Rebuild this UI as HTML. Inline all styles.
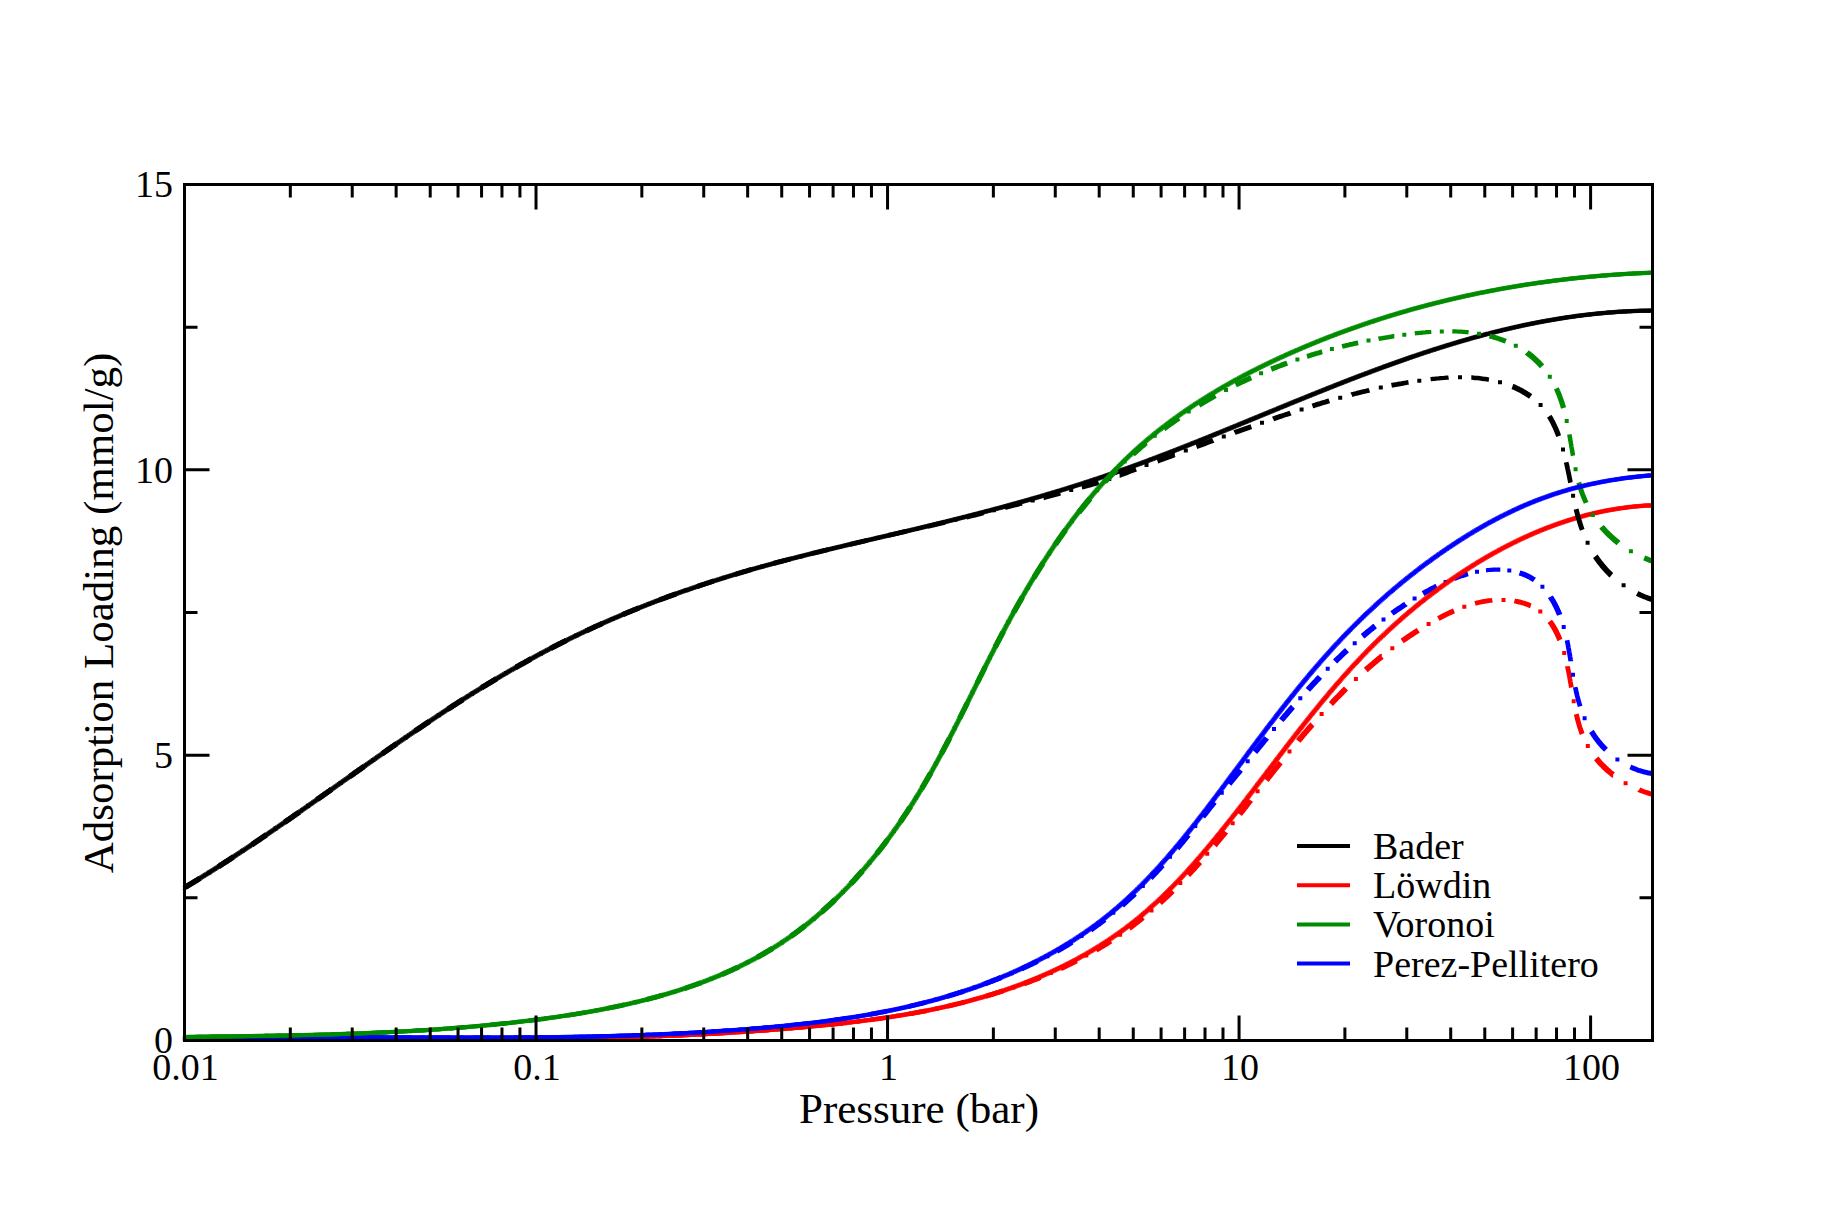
<!DOCTYPE html>
<html><head><meta charset="utf-8"><style>
html,body{margin:0;padding:0;background:#fff;}
svg{display:block;}
text{font-family:"Liberation Serif",serif;fill:#000;}
</style></head><body>
<svg width="1836" height="1224" viewBox="0 0 1836 1224">
<rect width="1836" height="1224" fill="#fff"/>
<g fill="none" stroke-linecap="butt" stroke-linejoin="round">
<defs>
<path id="c2" d="M184.5 1038.5 L185.5 1038.5 L187.0 1038.5 L188.5 1038.5 L190.0 1038.5 L191.5 1038.5 L193.1 1038.5 L194.6 1038.5 L196.1 1038.5 L197.6 1038.5 L199.1 1038.5 L200.6 1038.5 L202.1 1038.5 L203.6 1038.5 L205.1 1038.5 L206.6 1038.5 L208.1 1038.5 L209.7 1038.5 L211.2 1038.5 L212.7 1038.5 L214.2 1038.5 L215.7 1038.5 L217.2 1038.5 L218.7 1038.5 L220.2 1038.5 L221.7 1038.5 L223.2 1038.5 L224.7 1038.5 L226.2 1038.5 L227.7 1038.5 L229.2 1038.5 L230.8 1038.5 L232.3 1038.5 L233.8 1038.5 L235.3 1038.5 L236.8 1038.5 L238.3 1038.5 L239.8 1038.5 L241.3 1038.5 L242.8 1038.5 L244.3 1038.5 L245.8 1038.5 L247.3 1038.5 L248.8 1038.5 L250.3 1038.5 L251.8 1038.5 L253.3 1038.5 L254.8 1038.5 L256.3 1038.4 L257.9 1038.4 L259.4 1038.4 L260.9 1038.4 L262.4 1038.4 L263.9 1038.4 L265.4 1038.4 L266.9 1038.4 L268.4 1038.4 L269.9 1038.4 L271.4 1038.4 L272.9 1038.4 L274.4 1038.4 L275.9 1038.4 L277.4 1038.4 L278.9 1038.4 L280.4 1038.4 L281.9 1038.4 L283.4 1038.4 L284.9 1038.4 L286.4 1038.4 L287.9 1038.4 L289.4 1038.4 L290.9 1038.4 L292.4 1038.4 L293.9 1038.4 L295.4 1038.4 L296.9 1038.4 L298.5 1038.4 L300.0 1038.5 L301.5 1038.5 L303.0 1038.5 L304.5 1038.5 L306.0 1038.5 L307.5 1038.5 L309.0 1038.5 L310.5 1038.5 L312.0 1038.5 L313.5 1038.5 L315.0 1038.5 L316.5 1038.5 L318.0 1038.5 L319.5 1038.5 L321.0 1038.5 L322.5 1038.5 L324.0 1038.5 L325.5 1038.5 L327.0 1038.5 L328.5 1038.5 L330.0 1038.5 L331.5 1038.5 L333.0 1038.5 L334.5 1038.5 L336.0 1038.5 L337.5 1038.5 L339.0 1038.5 L340.5 1038.5 L342.0 1038.5 L343.5 1038.5 L345.0 1038.5 L346.5 1038.5 L348.0 1038.5 L349.5 1038.5 L351.0 1038.5 L352.5 1038.5 L354.0 1038.5 L355.5 1038.5 L357.0 1038.5 L358.5 1038.5 L360.0 1038.5 L361.5 1038.5 L363.0 1038.5 L364.5 1038.5 L366.0 1038.5 L367.5 1038.5 L369.0 1038.5 L370.5 1038.5 L372.0 1038.5 L373.5 1038.5 L375.0 1038.5 L376.5 1038.5 L378.0 1038.5 L379.5 1038.5 L381.0 1038.5 L382.5 1038.5 L384.0 1038.5 L385.5 1038.5 L387.0 1038.5 L388.5 1038.5 L390.0 1038.5 L391.5 1038.5 L393.0 1038.5 L394.4 1038.5 L395.9 1038.5 L397.4 1038.5 L398.9 1038.5 L400.4 1038.5 L401.9 1038.5 L403.4 1038.5 L404.9 1038.5 L406.4 1038.5 L407.9 1038.5 L409.4 1038.5 L410.9 1038.5 L412.4 1038.5 L413.9 1038.5 L415.4 1038.5 L416.9 1038.5 L418.4 1038.5 L419.9 1038.5 L421.4 1038.5 L422.9 1038.5 L424.4 1038.5 L425.9 1038.5 L427.4 1038.5 L428.9 1038.5 L430.4 1038.5 L431.9 1038.5 L433.4 1038.5 L434.9 1038.5 L436.4 1038.5 L437.9 1038.5 L439.4 1038.5 L440.9 1038.5 L442.4 1038.5 L443.8 1038.5 L445.3 1038.5 L446.8 1038.5 L448.3 1038.5 L449.8 1038.5 L451.3 1038.5 L452.8 1038.5 L454.3 1038.5 L455.8 1038.5 L457.3 1038.5 L458.8 1038.5 L460.3 1038.5 L461.8 1038.5 L463.3 1038.5 L464.8 1038.5 L466.3 1038.5 L467.8 1038.5 L469.3 1038.5 L470.8 1038.5 L472.3 1038.5 L473.8 1038.5 L475.3 1038.5 L476.8 1038.5 L478.2 1038.5 L479.7 1038.5 L481.2 1038.5 L482.7 1038.5 L484.2 1038.5 L485.7 1038.5 L487.2 1038.5 L488.7 1038.5 L490.2 1038.5 L491.7 1038.5 L493.2 1038.5 L494.7 1038.5 L496.2 1038.5 L497.7 1038.5 L499.2 1038.5 L500.7 1038.5 L502.2 1038.5 L503.7 1038.5 L505.2 1038.5 L506.6 1038.5 L508.1 1038.5 L509.6 1038.5 L511.1 1038.5 L512.6 1038.5 L514.1 1038.5 L515.6 1038.5 L517.1 1038.5 L518.6 1038.5 L520.1 1038.5 L521.6 1038.5 L523.1 1038.5 L524.6 1038.5 L526.1 1038.5 L527.6 1038.5 L529.1 1038.5 L530.6 1038.5 L532.1 1038.5 L533.5 1038.5 L535.0 1038.5 L536.5 1038.5 L538.0 1038.5 L539.5 1038.5 L541.0 1038.5 L542.5 1038.5 L544.0 1038.5 L545.5 1038.5 L547.0 1038.5 L548.5 1038.5 L550.0 1038.5 L551.5 1038.5 L553.0 1038.5 L554.5 1038.5 L556.0 1038.5 L557.4 1038.5 L558.9 1038.5 L560.4 1038.5 L561.9 1038.5 L563.4 1038.5 L564.9 1038.5 L566.4 1038.5 L567.9 1038.5 L569.4 1038.5 L570.9 1038.4 L572.4 1038.4 L573.9 1038.4 L575.4 1038.4 L576.9 1038.4 L578.4 1038.3 L579.9 1038.3 L581.3 1038.3 L582.8 1038.3 L584.3 1038.2 L585.8 1038.2 L587.3 1038.2 L588.8 1038.1 L590.3 1038.1 L591.8 1038.1 L593.3 1038.1 L594.8 1038.0 L596.3 1038.0 L597.8 1038.0 L599.3 1037.9 L600.8 1037.9 L602.3 1037.9 L603.7 1037.8 L605.2 1037.8 L606.7 1037.8 L608.2 1037.7 L609.7 1037.7 L611.2 1037.7 L612.7 1037.6 L614.2 1037.6 L615.7 1037.6 L617.2 1037.5 L618.7 1037.5 L620.2 1037.4 L621.7 1037.4 L623.2 1037.4 L624.7 1037.3 L626.1 1037.3 L627.6 1037.2 L629.1 1037.2 L630.6 1037.1 L632.1 1037.1 L633.6 1037.1 L635.1 1037.0 L636.6 1037.0 L638.1 1036.9 L639.6 1036.9 L641.1 1036.8 L642.6 1036.8 L644.1 1036.7 L645.6 1036.7 L647.0 1036.6 L648.5 1036.6 L650.0 1036.5 L651.5 1036.5 L653.0 1036.4 L654.5 1036.4 L656.0 1036.3 L657.5 1036.3 L659.0 1036.2 L660.5 1036.2 L662.0 1036.1 L663.5 1036.0 L665.0 1036.0 L666.5 1035.9 L668.0 1035.9 L669.5 1035.8 L670.9 1035.7 L672.4 1035.7 L673.9 1035.6 L675.4 1035.6 L676.9 1035.5 L678.4 1035.4 L679.9 1035.4 L681.4 1035.3 L682.9 1035.2 L684.4 1035.2 L685.9 1035.1 L687.4 1035.0 L688.9 1035.0 L690.4 1034.9 L691.9 1034.8 L693.3 1034.7 L694.8 1034.7 L696.3 1034.6 L697.8 1034.5 L699.3 1034.5 L700.8 1034.4 L702.3 1034.3 L703.8 1034.2 L705.3 1034.2 L706.8 1034.1 L708.3 1034.0 L709.8 1033.9 L711.3 1033.8 L712.8 1033.8 L714.3 1033.7 L715.8 1033.6 L717.2 1033.5 L718.7 1033.4 L720.2 1033.3 L721.7 1033.2 L723.2 1033.2 L724.7 1033.1 L726.2 1033.0 L727.7 1032.9 L729.2 1032.8 L730.7 1032.7 L732.2 1032.6 L733.7 1032.5 L735.2 1032.4 L736.7 1032.3 L738.2 1032.2 L739.7 1032.2 L741.2 1032.1 L742.6 1032.0 L744.1 1031.9 L745.6 1031.8 L747.1 1031.7 L748.6 1031.6 L750.1 1031.5 L751.6 1031.4 L753.1 1031.2 L754.6 1031.1 L756.1 1031.0 L757.6 1030.9 L759.1 1030.8 L760.6 1030.7 L762.1 1030.6 L763.6 1030.5 L765.1 1030.4 L766.6 1030.3 L768.1 1030.2 L769.6 1030.0 L771.0 1029.9 L772.5 1029.8 L774.0 1029.7 L775.5 1029.6 L777.0 1029.5 L778.5 1029.3 L780.0 1029.2 L781.5 1029.1 L783.0 1029.0 L784.5 1028.9 L786.0 1028.7 L787.5 1028.6 L789.0 1028.5 L790.5 1028.4 L792.0 1028.2 L793.5 1028.1 L795.0 1028.0 L796.5 1027.8 L798.0 1027.7 L799.5 1027.6 L801.0 1027.4 L802.5 1027.3 L804.0 1027.2 L805.4 1027.0 L806.9 1026.9 L808.4 1026.8 L809.9 1026.6 L811.4 1026.5 L812.9 1026.3 L814.4 1026.2 L815.9 1026.0 L817.4 1025.9 L818.9 1025.7 L820.4 1025.6 L821.9 1025.5 L823.4 1025.3 L824.9 1025.2 L826.4 1025.0 L827.9 1024.8 L829.4 1024.7 L830.9 1024.5 L832.4 1024.4 L833.9 1024.2 L835.4 1024.1 L836.9 1023.9 L838.4 1023.7 L839.9 1023.6 L841.4 1023.4 L842.8 1023.2 L844.3 1023.1 L845.8 1022.9 L847.3 1022.7 L848.8 1022.6 L850.3 1022.4 L851.8 1022.2 L853.3 1022.0 L854.8 1021.8 L856.3 1021.7 L857.8 1021.5 L859.3 1021.3 L860.8 1021.1 L862.3 1020.9 L863.8 1020.7 L865.3 1020.5 L866.7 1020.3 L868.2 1020.1 L869.7 1020.0 L871.2 1019.8 L872.7 1019.5 L874.2 1019.3 L875.7 1019.1 L877.2 1018.9 L878.7 1018.7 L880.2 1018.5 L881.6 1018.3 L883.1 1018.1 L884.6 1017.9 L886.1 1017.6 L887.6 1017.4 L889.1 1017.2 L890.6 1017.0 L892.1 1016.7 L893.5 1016.5 L895.0 1016.3 L896.5 1016.0 L898.0 1015.8 L899.5 1015.6 L901.0 1015.3 L902.4 1015.1 L903.9 1014.8 L905.4 1014.6 L906.9 1014.3 L908.4 1014.1 L909.8 1013.8 L911.3 1013.5 L912.8 1013.3 L914.3 1013.0 L915.7 1012.7 L917.2 1012.5 L918.7 1012.2 L920.2 1011.9 L921.6 1011.6 L923.1 1011.4 L924.6 1011.1 L926.1 1010.8 L927.5 1010.5 L929.0 1010.2 L930.5 1009.9 L931.9 1009.6 L933.4 1009.3 L934.9 1009.0 L936.3 1008.7 L937.8 1008.4 L939.3 1008.1 L940.7 1007.7 L942.2 1007.4 L943.7 1007.1 L945.1 1006.8 L946.6 1006.4 L948.0 1006.1 L949.5 1005.8 L951.0 1005.4 L952.4 1005.1 L953.9 1004.7 L955.3 1004.4 L956.8 1004.0 L958.2 1003.7 L959.7 1003.3 L961.1 1003.0 L962.6 1002.6 L964.0 1002.2 L965.5 1001.9 L966.9 1001.5 L968.4 1001.1 L969.8 1000.7 L971.3 1000.3 L972.7 999.9 L974.2 999.5 L975.6 999.1 L977.0 998.7 L978.5 998.3 L979.9 997.9 L981.4 997.5 L982.8 997.1 L984.2 996.7 L985.7 996.3 L987.1 995.8 L988.5 995.4 L990.0 995.0 L991.4 994.5 L992.8 994.1 L994.3 993.6 L995.7 993.2 L997.1 992.7 L998.5 992.3 L1000.0 991.8 L1001.4 991.3 L1002.8 990.9 L1004.2 990.4 L1005.6 989.9 L1007.0 989.4 L1008.5 988.9 L1009.9 988.4 L1011.3 987.9 L1012.7 987.4 L1014.1 986.9 L1015.5 986.4 L1016.9 985.9 L1018.3 985.4 L1019.7 984.9 L1021.1 984.4 L1022.5 983.8 L1023.9 983.3 L1025.3 982.7 L1026.7 982.2 L1028.1 981.7 L1029.5 981.1 L1030.9 980.5 L1032.3 980.0 L1033.7 979.4 L1035.1 978.8 L1036.5 978.3 L1037.9 977.7 L1039.2 977.1 L1040.6 976.5 L1042.0 975.9 L1043.4 975.3 L1044.8 974.7 L1046.1 974.1 L1047.5 973.5 L1048.9 972.9 L1050.2 972.3 L1051.6 971.7 L1053.0 971.0 L1054.3 970.4 L1055.7 969.8 L1057.0 969.1 L1058.4 968.5 L1059.7 967.8 L1061.1 967.2 L1062.4 966.5 L1063.8 965.9 L1065.1 965.2 L1066.5 964.5 L1067.8 963.8 L1069.1 963.2 L1070.5 962.5 L1071.8 961.8 L1073.1 961.1 L1074.4 960.4 L1075.8 959.7 L1077.1 959.0 L1078.4 958.3 L1079.7 957.5 L1081.0 956.8 L1082.3 956.1 L1083.6 955.4 L1084.9 954.6 L1086.2 953.9 L1087.5 953.1 L1088.8 952.4 L1090.1 951.6 L1091.4 950.9 L1092.7 950.1 L1094.0 949.3 L1095.2 948.6 L1096.5 947.8 L1097.8 947.0 L1099.1 946.2 L1100.3 945.4 L1101.6 944.6 L1102.9 943.8 L1104.1 943.0 L1105.4 942.2 L1106.6 941.4 L1107.9 940.6 L1109.1 939.7 L1110.3 938.9 L1111.6 938.1 L1112.8 937.2 L1114.0 936.4 L1115.3 935.5 L1116.5 934.7 L1117.7 933.8 L1118.9 933.0 L1120.1 932.1 L1121.4 931.2 L1122.6 930.3 L1123.8 929.5 L1125.0 928.6 L1126.1 927.7 L1127.3 926.8 L1128.5 925.9 L1129.7 925.0 L1130.9 924.1 L1132.1 923.1 L1133.2 922.2 L1134.4 921.3 L1135.6 920.4 L1136.7 919.4 L1137.9 918.5 L1139.0 917.5 L1140.2 916.6 L1141.3 915.6 L1142.5 914.7 L1143.6 913.7 L1144.7 912.7 L1145.9 911.8 L1147.0 910.8 L1148.1 909.8 L1149.2 908.8 L1150.3 907.8 L1151.4 906.8 L1152.6 905.8 L1153.7 904.8 L1154.8 903.8 L1155.9 902.8 L1157.0 901.8 L1158.0 900.8 L1159.1 899.8 L1160.2 898.7 L1161.3 897.7 L1162.4 896.7 L1163.5 895.6 L1164.5 894.6 L1165.6 893.5 L1166.7 892.5 L1167.7 891.5 L1168.8 890.4 L1169.8 889.3 L1170.9 888.3 L1172.0 887.2 L1173.0 886.1 L1174.0 885.1 L1175.1 884.0 L1176.1 882.9 L1177.2 881.8 L1178.2 880.8 L1179.2 879.7 L1180.3 878.6 L1181.3 877.5 L1182.3 876.4 L1183.3 875.3 L1184.4 874.2 L1185.4 873.1 L1186.4 872.0 L1187.4 870.9 L1188.4 869.8 L1189.4 868.7 L1190.4 867.5 L1191.4 866.4 L1192.4 865.3 L1193.4 864.2 L1194.4 863.1 L1195.4 861.9 L1196.4 860.8 L1197.4 859.7 L1198.4 858.5 L1199.4 857.4 L1200.3 856.3 L1201.3 855.1 L1202.3 854.0 L1203.3 852.8 L1204.3 851.7 L1205.2 850.5 L1206.2 849.4 L1207.2 848.2 L1208.1 847.1 L1209.1 845.9 L1210.1 844.8 L1211.0 843.6 L1212.0 842.5 L1212.9 841.3 L1213.9 840.1 L1214.9 839.0 L1215.8 837.8 L1216.8 836.7 L1217.7 835.5 L1218.7 834.3 L1219.6 833.2 L1220.6 832.0 L1221.5 830.8 L1222.4 829.6 L1223.4 828.5 L1224.3 827.3 L1225.3 826.1 L1226.2 824.9 L1227.1 823.8 L1228.1 822.6 L1229.0 821.4 L1229.9 820.2 L1230.9 819.1 L1231.8 817.9 L1232.7 816.7 L1233.7 815.5 L1234.6 814.3 L1235.5 813.2 L1236.4 812.0 L1237.4 810.8 L1238.3 809.6 L1239.2 808.4 L1240.1 807.2 L1241.1 806.0 L1242.0 804.9 L1242.9 803.7 L1243.8 802.5 L1244.7 801.3 L1245.7 800.1 L1246.6 798.9 L1247.5 797.7 L1248.4 796.5 L1249.3 795.3 L1250.2 794.2 L1251.1 793.0 L1252.1 791.8 L1253.0 790.6 L1253.9 789.4 L1254.8 788.2 L1255.7 787.0 L1256.6 785.8 L1257.5 784.6 L1258.4 783.4 L1259.3 782.2 L1260.3 781.0 L1261.2 779.8 L1262.1 778.6 L1263.0 777.5 L1263.9 776.3 L1264.8 775.1 L1265.7 773.9 L1266.6 772.7 L1267.5 771.5 L1268.4 770.3 L1269.3 769.1 L1270.2 767.9 L1271.2 766.7 L1272.1 765.5 L1273.0 764.3 L1273.9 763.1 L1274.8 761.9 L1275.7 760.7 L1276.6 759.6 L1277.5 758.4 L1278.4 757.2 L1279.3 756.0 L1280.2 754.8 L1281.1 753.6 L1282.1 752.4 L1283.0 751.2 L1283.9 750.0 L1284.8 748.8 L1285.7 747.7 L1286.6 746.5 L1287.5 745.3 L1288.4 744.1 L1289.4 742.9 L1290.3 741.7 L1291.2 740.5 L1292.1 739.4 L1293.0 738.2 L1293.9 737.0 L1294.9 735.8 L1295.8 734.6 L1296.7 733.4 L1297.6 732.3 L1298.5 731.1 L1299.5 729.9 L1300.4 728.7 L1301.3 727.5 L1302.2 726.4 L1303.1 725.2 L1304.1 724.0 L1305.0 722.9 L1305.9 721.7 L1306.9 720.5 L1307.8 719.3 L1308.7 718.2 L1309.7 717.0 L1310.6 715.8 L1311.5 714.7 L1312.5 713.5 L1313.4 712.3 L1314.3 711.2 L1315.3 710.0 L1316.2 708.9 L1317.2 707.7 L1318.1 706.5 L1319.0 705.4 L1320.0 704.2 L1320.9 703.1 L1321.9 701.9 L1322.8 700.8 L1323.8 699.6 L1324.8 698.5 L1325.7 697.3 L1326.7 696.2 L1327.6 695.0 L1328.6 693.9 L1329.5 692.7 L1330.5 691.6 L1331.5 690.5 L1332.4 689.3 L1333.4 688.2 L1334.4 687.1 L1335.4 685.9 L1336.3 684.8 L1337.3 683.7 L1338.3 682.5 L1339.3 681.4 L1340.3 680.3 L1341.2 679.2 L1342.2 678.0 L1343.2 676.9 L1344.2 675.8 L1345.2 674.7 L1346.2 673.6 L1347.2 672.5 L1348.2 671.4 L1349.2 670.2 L1350.2 669.1 L1351.2 668.0 L1352.2 666.9 L1353.2 665.8 L1354.2 664.7 L1355.3 663.6 L1356.3 662.5 L1357.3 661.5 L1358.3 660.4 L1359.3 659.3 L1360.4 658.2 L1361.4 657.1 L1362.4 656.0 L1363.5 654.9 L1364.5 653.9 L1365.6 652.8 L1366.6 651.7 L1367.6 650.7 L1368.7 649.6 L1369.7 648.5 L1370.8 647.5 L1371.9 646.4 L1372.9 645.3 L1374.0 644.3 L1375.0 643.2 L1376.1 642.2 L1377.2 641.1 L1378.3 640.1 L1379.3 639.0 L1380.4 638.0 L1381.5 637.0 L1382.6 635.9 L1383.7 634.9 L1384.8 633.9 L1385.9 632.8 L1386.9 631.8 L1388.0 630.8 L1389.1 629.8 L1390.2 628.7 L1391.4 627.7 L1392.5 626.7 L1393.6 625.7 L1394.7 624.7 L1395.8 623.7 L1396.9 622.7 L1398.0 621.7 L1399.2 620.7 L1400.3 619.7 L1401.4 618.7 L1402.6 617.7 L1403.7 616.7 L1404.8 615.7 L1406.0 614.8 L1407.1 613.8 L1408.3 612.8 L1409.4 611.8 L1410.6 610.9 L1411.7 609.9 L1412.9 609.0 L1414.0 608.0 L1415.2 607.0 L1416.3 606.1 L1417.5 605.1 L1418.7 604.2 L1419.8 603.2 L1421.0 602.3 L1422.2 601.4 L1423.4 600.4 L1424.5 599.5 L1425.7 598.6 L1426.9 597.6 L1428.1 596.7 L1429.3 595.8 L1430.5 594.9 L1431.7 594.0 L1432.9 593.1 L1434.1 592.2 L1435.3 591.3 L1436.5 590.4 L1437.7 589.5 L1438.9 588.6 L1440.1 587.7 L1441.3 586.8 L1442.5 585.9 L1443.8 585.0 L1445.0 584.1 L1446.2 583.3 L1447.4 582.4 L1448.6 581.5 L1449.9 580.7 L1451.1 579.8 L1452.3 579.0 L1453.6 578.1 L1454.8 577.3 L1456.1 576.4 L1457.3 575.6 L1458.6 574.7 L1459.8 573.9 L1461.1 573.1 L1462.3 572.2 L1463.6 571.4 L1464.8 570.6 L1466.1 569.8 L1467.3 569.0 L1468.6 568.2 L1469.9 567.4 L1471.1 566.6 L1472.4 565.8 L1473.7 565.0 L1475.0 564.2 L1476.2 563.4 L1477.5 562.6 L1478.8 561.8 L1480.1 561.1 L1481.4 560.3 L1482.7 559.5 L1483.9 558.8 L1485.2 558.0 L1486.5 557.2 L1487.8 556.5 L1489.1 555.7 L1490.4 555.0 L1491.7 554.3 L1493.0 553.5 L1494.3 552.8 L1495.7 552.1 L1497.0 551.4 L1498.3 550.6 L1499.6 549.9 L1500.9 549.2 L1502.2 548.5 L1503.6 547.8 L1504.9 547.1 L1506.2 546.4 L1507.5 545.7 L1508.9 545.1 L1510.2 544.4 L1511.5 543.7 L1512.9 543.0 L1514.2 542.4 L1515.6 541.7 L1516.9 541.1 L1518.2 540.4 L1519.6 539.8 L1520.9 539.1 L1522.3 538.5 L1523.6 537.9 L1525.0 537.2 L1526.4 536.6 L1527.7 536.0 L1529.1 535.4 L1530.4 534.8 L1531.8 534.2 L1533.2 533.6 L1534.5 533.0 L1535.9 532.4 L1537.3 531.8 L1538.7 531.3 L1540.0 530.7 L1541.4 530.1 L1542.8 529.6 L1544.2 529.0 L1545.6 528.5 L1547.0 527.9 L1548.4 527.4 L1549.8 526.9 L1551.1 526.4 L1552.5 525.8 L1553.9 525.3 L1555.3 524.8 L1556.7 524.3 L1558.1 523.8 L1559.6 523.3 L1561.0 522.8 L1562.4 522.4 L1563.8 521.9 L1565.2 521.4 L1566.6 521.0 L1568.0 520.5 L1569.5 520.0 L1570.9 519.6 L1572.3 519.2 L1573.7 518.7 L1575.2 518.3 L1576.6 517.9 L1578.0 517.5 L1579.5 517.1 L1580.9 516.7 L1582.3 516.3 L1583.8 515.9 L1585.2 515.5 L1586.6 515.1 L1588.1 514.7 L1589.5 514.4 L1591.0 514.0 L1592.4 513.7 L1593.9 513.3 L1595.3 513.0 L1596.8 512.7 L1598.3 512.3 L1599.7 512.0 L1601.2 511.7 L1602.7 511.4 L1604.1 511.1 L1605.6 510.8 L1607.1 510.5 L1608.5 510.3 L1610.0 510.0 L1611.5 509.7 L1613.0 509.5 L1614.4 509.2 L1615.9 509.0 L1617.4 508.7 L1618.9 508.5 L1620.4 508.3 L1621.9 508.1 L1623.3 507.9 L1624.8 507.7 L1626.3 507.5 L1627.8 507.3 L1629.3 507.1 L1630.8 506.9 L1632.3 506.8 L1633.8 506.6 L1635.3 506.5 L1636.8 506.3 L1638.3 506.2 L1639.9 506.1 L1641.4 505.9 L1642.9 505.8 L1644.4 505.7 L1645.9 505.6 L1647.4 505.5 L1649.0 505.5 L1650.5 505.4 L1652.0 505.3" stroke="#f00"/>
<path id="c3" d="M184.5 888.0 L185.3 887.2 L186.6 886.5 L187.8 885.7 L189.1 884.9 L190.4 884.1 L191.6 883.4 L192.9 882.6 L194.2 881.8 L195.5 881.0 L196.7 880.3 L198.0 879.5 L199.3 878.7 L200.5 877.9 L201.8 877.1 L203.1 876.3 L204.3 875.5 L205.6 874.7 L206.9 874.0 L208.1 873.2 L209.4 872.4 L210.6 871.6 L211.9 870.8 L213.2 870.0 L214.4 869.2 L215.7 868.4 L216.9 867.6 L218.2 866.8 L219.5 866.0 L220.7 865.1 L222.0 864.3 L223.2 863.5 L224.5 862.7 L225.7 861.9 L227.0 861.1 L228.2 860.3 L229.5 859.5 L230.7 858.6 L232.0 857.8 L233.2 857.0 L234.5 856.2 L235.7 855.4 L237.0 854.5 L238.2 853.7 L239.5 852.9 L240.7 852.1 L242.0 851.2 L243.2 850.4 L244.5 849.6 L245.7 848.8 L247.0 847.9 L248.2 847.1 L249.5 846.3 L250.7 845.4 L251.9 844.6 L253.2 843.8 L254.4 842.9 L255.7 842.1 L256.9 841.2 L258.2 840.4 L259.4 839.6 L260.6 838.7 L261.9 837.9 L263.1 837.0 L264.4 836.2 L265.6 835.3 L266.8 834.5 L268.1 833.7 L269.3 832.8 L270.6 832.0 L271.8 831.1 L273.0 830.3 L274.3 829.4 L275.5 828.6 L276.7 827.7 L278.0 826.9 L279.2 826.0 L280.4 825.2 L281.7 824.3 L282.9 823.5 L284.2 822.6 L285.4 821.7 L286.6 820.9 L287.9 820.0 L289.1 819.2 L290.3 818.3 L291.6 817.5 L292.8 816.6 L294.0 815.7 L295.3 814.9 L296.5 814.0 L297.7 813.2 L299.0 812.3 L300.2 811.4 L301.4 810.6 L302.6 809.7 L303.9 808.8 L305.1 808.0 L306.3 807.1 L307.6 806.3 L308.8 805.4 L310.0 804.5 L311.3 803.7 L312.5 802.8 L313.7 801.9 L315.0 801.1 L316.2 800.2 L317.4 799.3 L318.6 798.5 L319.9 797.6 L321.1 796.7 L322.3 795.9 L323.6 795.0 L324.8 794.1 L326.0 793.3 L327.3 792.4 L328.5 791.5 L329.7 790.7 L330.9 789.8 L332.2 788.9 L333.4 788.1 L334.6 787.2 L335.9 786.3 L337.1 785.4 L338.3 784.6 L339.6 783.7 L340.8 782.8 L342.0 782.0 L343.2 781.1 L344.5 780.2 L345.7 779.4 L346.9 778.5 L348.2 777.6 L349.4 776.8 L350.6 775.9 L351.9 775.0 L353.1 774.2 L354.3 773.3 L355.5 772.4 L356.8 771.6 L358.0 770.7 L359.2 769.8 L360.5 769.0 L361.7 768.1 L362.9 767.2 L364.2 766.3 L365.4 765.5 L366.6 764.6 L367.9 763.8 L369.1 762.9 L370.3 762.0 L371.6 761.2 L372.8 760.3 L374.0 759.4 L375.3 758.6 L376.5 757.7 L377.7 756.8 L379.0 756.0 L380.2 755.1 L381.4 754.3 L382.7 753.4 L383.9 752.5 L385.1 751.7 L386.4 750.8 L387.6 749.9 L388.8 749.1 L390.1 748.2 L391.3 747.4 L392.5 746.5 L393.8 745.7 L395.0 744.8 L396.3 743.9 L397.5 743.1 L398.7 742.2 L400.0 741.4 L401.2 740.5 L402.4 739.7 L403.7 738.8 L404.9 738.0 L406.2 737.1 L407.4 736.3 L408.6 735.4 L409.9 734.6 L411.1 733.7 L412.4 732.9 L413.6 732.0 L414.9 731.2 L416.1 730.3 L417.3 729.5 L418.6 728.7 L419.8 727.8 L421.1 727.0 L422.3 726.1 L423.6 725.3 L424.8 724.4 L426.1 723.6 L427.3 722.8 L428.6 721.9 L429.8 721.1 L431.1 720.3 L432.3 719.4 L433.6 718.6 L434.8 717.8 L436.1 716.9 L437.3 716.1 L438.6 715.3 L439.8 714.5 L441.1 713.6 L442.3 712.8 L443.6 712.0 L444.8 711.2 L446.1 710.3 L447.4 709.5 L448.6 708.7 L449.9 707.9 L451.1 707.1 L452.4 706.2 L453.6 705.4 L454.9 704.6 L456.2 703.8 L457.4 703.0 L458.7 702.2 L460.0 701.4 L461.2 700.6 L462.5 699.7 L463.7 698.9 L465.0 698.1 L466.3 697.3 L467.5 696.5 L468.8 695.7 L470.1 694.9 L471.3 694.1 L472.6 693.3 L473.9 692.5 L475.2 691.7 L476.4 691.0 L477.7 690.2 L479.0 689.4 L480.3 688.6 L481.5 687.8 L482.8 687.0 L484.1 686.2 L485.4 685.5 L486.6 684.7 L487.9 683.9 L489.2 683.1 L490.5 682.3 L491.8 681.6 L493.0 680.8 L494.3 680.0 L495.6 679.3 L496.9 678.5 L498.2 677.7 L499.5 677.0 L500.7 676.2 L502.0 675.4 L503.3 674.7 L504.6 673.9 L505.9 673.2 L507.2 672.4 L508.5 671.6 L509.8 670.9 L511.1 670.1 L512.4 669.4 L513.7 668.7 L515.0 667.9 L516.3 667.2 L517.6 666.4 L518.9 665.7 L520.2 664.9 L521.5 664.2 L522.8 663.5 L524.1 662.8 L525.4 662.0 L526.7 661.3 L528.0 660.6 L529.3 659.8 L530.6 659.1 L531.9 658.4 L533.2 657.7 L534.5 657.0 L535.8 656.3 L537.1 655.5 L538.5 654.8 L539.8 654.1 L541.1 653.4 L542.4 652.7 L543.7 652.0 L545.1 651.3 L546.4 650.6 L547.7 649.9 L549.0 649.2 L550.3 648.5 L551.7 647.9 L553.0 647.2 L554.3 646.5 L555.7 645.8 L557.0 645.1 L558.3 644.4 L559.6 643.8 L561.0 643.1 L562.3 642.4 L563.6 641.8 L565.0 641.1 L566.3 640.4 L567.7 639.8 L569.0 639.1 L570.3 638.4 L571.7 637.8 L573.0 637.1 L574.4 636.5 L575.7 635.8 L577.1 635.2 L578.4 634.5 L579.7 633.9 L581.1 633.2 L582.4 632.6 L583.8 632.0 L585.1 631.3 L586.5 630.7 L587.9 630.1 L589.2 629.4 L590.6 628.8 L591.9 628.2 L593.3 627.6 L594.6 626.9 L596.0 626.3 L597.4 625.7 L598.7 625.1 L600.1 624.5 L601.4 623.9 L602.8 623.2 L604.2 622.6 L605.5 622.0 L606.9 621.4 L608.3 620.8 L609.6 620.2 L611.0 619.6 L612.4 619.0 L613.8 618.4 L615.1 617.8 L616.5 617.3 L617.9 616.7 L619.3 616.1 L620.6 615.5 L622.0 614.9 L623.4 614.3 L624.8 613.8 L626.1 613.2 L627.5 612.6 L628.9 612.0 L630.3 611.5 L631.7 610.9 L633.1 610.3 L634.4 609.8 L635.8 609.2 L637.2 608.7 L638.6 608.1 L640.0 607.5 L641.4 607.0 L642.8 606.4 L644.2 605.9 L645.6 605.3 L646.9 604.8 L648.3 604.2 L649.7 603.7 L651.1 603.2 L652.5 602.6 L653.9 602.1 L655.3 601.5 L656.7 601.0 L658.1 600.5 L659.5 600.0 L660.9 599.4 L662.3 598.9 L663.7 598.4 L665.1 597.9 L666.5 597.3 L667.9 596.8 L669.3 596.3 L670.7 595.8 L672.1 595.3 L673.6 594.8 L675.0 594.3 L676.4 593.7 L677.8 593.2 L679.2 592.7 L680.6 592.2 L682.0 591.7 L683.4 591.2 L684.8 590.7 L686.3 590.2 L687.7 589.8 L689.1 589.3 L690.5 588.8 L691.9 588.3 L693.3 587.8 L694.8 587.3 L696.2 586.8 L697.6 586.4 L699.0 585.9 L700.4 585.4 L701.9 584.9 L703.3 584.5 L704.7 584.0 L706.1 583.5 L707.5 583.0 L709.0 582.6 L710.4 582.1 L711.8 581.7 L713.2 581.2 L714.7 580.7 L716.1 580.3 L717.5 579.8 L719.0 579.4 L720.4 578.9 L721.8 578.5 L723.3 578.0 L724.7 577.6 L726.1 577.1 L727.5 576.7 L729.0 576.2 L730.4 575.8 L731.8 575.4 L733.3 574.9 L734.7 574.5 L736.2 574.1 L737.6 573.6 L739.0 573.2 L740.5 572.8 L741.9 572.4 L743.3 571.9 L744.8 571.5 L746.2 571.1 L747.7 570.7 L749.1 570.2 L750.5 569.8 L752.0 569.4 L753.4 569.0 L754.9 568.6 L756.3 568.2 L757.8 567.8 L759.2 567.4 L760.7 567.0 L762.1 566.6 L763.5 566.2 L765.0 565.8 L766.4 565.4 L767.9 565.0 L769.3 564.6 L770.8 564.2 L772.2 563.8 L773.7 563.4 L775.1 563.0 L776.6 562.6 L778.0 562.2 L779.5 561.8 L780.9 561.5 L782.4 561.1 L783.8 560.7 L785.3 560.3 L786.7 559.9 L788.2 559.6 L789.6 559.2 L791.1 558.8 L792.6 558.4 L794.0 558.1 L795.5 557.7 L796.9 557.3 L798.4 556.9 L799.8 556.6 L801.3 556.2 L802.7 555.8 L804.2 555.5 L805.7 555.1 L807.1 554.7 L808.6 554.4 L810.0 554.0 L811.5 553.6 L812.9 553.3 L814.4 552.9 L815.9 552.6 L817.3 552.2 L818.8 551.9 L820.2 551.5 L821.7 551.1 L823.2 550.8 L824.6 550.4 L826.1 550.1 L827.5 549.7 L829.0 549.4 L830.5 549.0 L831.9 548.7 L833.4 548.3 L834.8 548.0 L836.3 547.6 L837.8 547.3 L839.2 546.9 L840.7 546.6 L842.2 546.2 L843.6 545.9 L845.1 545.5 L846.5 545.2 L848.0 544.8 L849.5 544.5 L850.9 544.2 L852.4 543.8 L853.9 543.5 L855.3 543.1 L856.8 542.8 L858.2 542.4 L859.7 542.1 L861.2 541.8 L862.6 541.4 L864.1 541.1 L865.6 540.7 L867.0 540.4 L868.5 540.0 L870.0 539.7 L871.4 539.4 L872.9 539.0 L874.3 538.7 L875.8 538.3 L877.3 538.0 L878.7 537.7 L880.2 537.3 L881.7 537.0 L883.1 536.6 L884.6 536.3 L886.0 536.0 L887.5 535.6 L889.0 535.3 L890.4 534.9 L891.9 534.6 L893.4 534.2 L894.8 533.9 L896.3 533.6 L897.8 533.2 L899.2 532.9 L900.7 532.5 L902.1 532.2 L903.6 531.8 L905.1 531.5 L906.5 531.2 L908.0 530.8 L909.4 530.5 L910.9 530.1 L912.4 529.8 L913.8 529.4 L915.3 529.1 L916.7 528.7 L918.2 528.4 L919.7 528.0 L921.1 527.7 L922.6 527.3 L924.0 527.0 L925.5 526.6 L927.0 526.3 L928.4 525.9 L929.9 525.6 L931.3 525.2 L932.8 524.9 L934.3 524.5 L935.7 524.2 L937.2 523.8 L938.6 523.5 L940.1 523.1 L941.5 522.7 L943.0 522.4 L944.5 522.0 L945.9 521.7 L947.4 521.3 L948.8 520.9 L950.3 520.6 L951.7 520.2 L953.2 519.9 L954.6 519.5 L956.1 519.1 L957.5 518.8 L959.0 518.4 L960.5 518.0 L961.9 517.7 L963.4 517.3 L964.8 516.9 L966.3 516.6 L967.7 516.2 L969.2 515.8 L970.6 515.5 L972.1 515.1 L973.5 514.7 L975.0 514.3 L976.4 514.0 L977.9 513.6 L979.3 513.2 L980.8 512.8 L982.2 512.5 L983.7 512.1 L985.1 511.7 L986.6 511.3 L988.0 510.9 L989.5 510.6 L990.9 510.2 L992.4 509.8 L993.8 509.4 L995.2 509.0 L996.7 508.6 L998.1 508.2 L999.6 507.9 L1001.0 507.5 L1002.5 507.1 L1003.9 506.7 L1005.4 506.3 L1006.8 505.9 L1008.2 505.5 L1009.7 505.1 L1011.1 504.7 L1012.6 504.3 L1014.0 503.9 L1015.5 503.5 L1016.9 503.1 L1018.3 502.7 L1019.8 502.3 L1021.2 501.9 L1022.7 501.5 L1024.1 501.1 L1025.5 500.7 L1027.0 500.3 L1028.4 499.9 L1029.9 499.5 L1031.3 499.0 L1032.7 498.6 L1034.2 498.2 L1035.6 497.8 L1037.0 497.4 L1038.5 497.0 L1039.9 496.6 L1041.3 496.1 L1042.8 495.7 L1044.2 495.3 L1045.6 494.9 L1047.1 494.4 L1048.5 494.0 L1049.9 493.6 L1051.4 493.2 L1052.8 492.7 L1054.2 492.3 L1055.7 491.9 L1057.1 491.4 L1058.5 491.0 L1060.0 490.6 L1061.4 490.1 L1062.8 489.7 L1064.2 489.3 L1065.7 488.8 L1067.1 488.4 L1068.5 487.9 L1070.0 487.5 L1071.4 487.0 L1072.8 486.6 L1074.2 486.1 L1075.7 485.7 L1077.1 485.2 L1078.5 484.8 L1079.9 484.3 L1081.4 483.9 L1082.8 483.4 L1084.2 483.0 L1085.6 482.5 L1087.0 482.0 L1088.5 481.6 L1089.9 481.1 L1091.3 480.6 L1092.7 480.2 L1094.1 479.7 L1095.6 479.2 L1097.0 478.8 L1098.4 478.3 L1099.8 477.8 L1101.2 477.3 L1102.7 476.9 L1104.1 476.4 L1105.5 475.9 L1106.9 475.4 L1108.3 474.9 L1109.7 474.4 L1111.1 474.0 L1112.6 473.5 L1114.0 473.0 L1115.4 472.5 L1116.8 472.0 L1118.2 471.5 L1119.6 471.0 L1121.0 470.5 L1122.4 470.0 L1123.8 469.5 L1125.2 469.0 L1126.7 468.5 L1128.1 468.0 L1129.5 467.5 L1130.9 467.0 L1132.3 466.5 L1133.7 465.9 L1135.1 465.4 L1136.5 464.9 L1137.9 464.4 L1139.3 463.9 L1140.7 463.4 L1142.1 462.9 L1143.5 462.3 L1144.9 461.8 L1146.3 461.3 L1147.7 460.8 L1149.1 460.2 L1150.5 459.7 L1151.9 459.2 L1153.3 458.7 L1154.7 458.1 L1156.1 457.6 L1157.5 457.1 L1158.9 456.5 L1160.3 456.0 L1161.7 455.5 L1163.1 454.9 L1164.5 454.4 L1165.9 453.9 L1167.3 453.3 L1168.7 452.8 L1170.1 452.2 L1171.5 451.7 L1172.9 451.2 L1174.3 450.6 L1175.7 450.1 L1177.1 449.5 L1178.5 449.0 L1179.9 448.4 L1181.3 447.9 L1182.7 447.3 L1184.1 446.8 L1185.5 446.2 L1186.9 445.7 L1188.3 445.1 L1189.7 444.6 L1191.0 444.0 L1192.4 443.5 L1193.8 442.9 L1195.2 442.4 L1196.6 441.8 L1198.0 441.3 L1199.4 440.7 L1200.8 440.1 L1202.2 439.6 L1203.6 439.0 L1205.0 438.5 L1206.4 437.9 L1207.8 437.3 L1209.1 436.8 L1210.5 436.2 L1211.9 435.7 L1213.3 435.1 L1214.7 434.5 L1216.1 434.0 L1217.5 433.4 L1218.9 432.8 L1220.3 432.3 L1221.7 431.7 L1223.1 431.1 L1224.4 430.6 L1225.8 430.0 L1227.2 429.4 L1228.6 428.9 L1230.0 428.3 L1231.4 427.7 L1232.8 427.2 L1234.2 426.6 L1235.6 426.0 L1236.9 425.5 L1238.3 424.9 L1239.7 424.3 L1241.1 423.7 L1242.5 423.2 L1243.9 422.6 L1245.3 422.0 L1246.7 421.5 L1248.1 420.9 L1249.4 420.3 L1250.8 419.7 L1252.2 419.2 L1253.6 418.6 L1255.0 418.0 L1256.4 417.5 L1257.8 416.9 L1259.2 416.3 L1260.6 415.7 L1261.9 415.2 L1263.3 414.6 L1264.7 414.0 L1266.1 413.5 L1267.5 412.9 L1268.9 412.3 L1270.3 411.7 L1271.7 411.2 L1273.1 410.6 L1274.5 410.0 L1275.8 409.5 L1277.2 408.9 L1278.6 408.3 L1280.0 407.7 L1281.4 407.2 L1282.8 406.6 L1284.2 406.0 L1285.6 405.5 L1287.0 404.9 L1288.4 404.3 L1289.7 403.7 L1291.1 403.2 L1292.5 402.6 L1293.9 402.0 L1295.3 401.5 L1296.7 400.9 L1298.1 400.3 L1299.5 399.8 L1300.9 399.2 L1302.3 398.6 L1303.7 398.1 L1305.1 397.5 L1306.4 396.9 L1307.8 396.4 L1309.2 395.8 L1310.6 395.3 L1312.0 394.7 L1313.4 394.1 L1314.8 393.6 L1316.2 393.0 L1317.6 392.4 L1319.0 391.9 L1320.4 391.3 L1321.8 390.8 L1323.2 390.2 L1324.6 389.7 L1326.0 389.1 L1327.4 388.5 L1328.8 388.0 L1330.2 387.4 L1331.6 386.9 L1333.0 386.3 L1334.3 385.8 L1335.7 385.2 L1337.1 384.7 L1338.5 384.1 L1339.9 383.6 L1341.3 383.0 L1342.7 382.5 L1344.1 381.9 L1345.5 381.4 L1346.9 380.8 L1348.3 380.3 L1349.7 379.7 L1351.1 379.2 L1352.5 378.7 L1353.9 378.1 L1355.3 377.6 L1356.7 377.0 L1358.1 376.5 L1359.5 376.0 L1360.9 375.4 L1362.4 374.9 L1363.8 374.4 L1365.2 373.8 L1366.6 373.3 L1368.0 372.8 L1369.4 372.3 L1370.8 371.7 L1372.2 371.2 L1373.6 370.7 L1375.0 370.2 L1376.4 369.6 L1377.8 369.1 L1379.2 368.6 L1380.6 368.1 L1382.0 367.6 L1383.4 367.0 L1384.8 366.5 L1386.3 366.0 L1387.7 365.5 L1389.1 365.0 L1390.5 364.5 L1391.9 364.0 L1393.3 363.5 L1394.7 363.0 L1396.1 362.5 L1397.5 362.0 L1398.9 361.5 L1400.4 361.0 L1401.8 360.5 L1403.2 360.0 L1404.6 359.5 L1406.0 359.0 L1407.4 358.5 L1408.8 358.0 L1410.3 357.5 L1411.7 357.0 L1413.1 356.5 L1414.5 356.1 L1415.9 355.6 L1417.3 355.1 L1418.8 354.6 L1420.2 354.1 L1421.6 353.7 L1423.0 353.2 L1424.4 352.7 L1425.9 352.2 L1427.3 351.8 L1428.7 351.3 L1430.1 350.8 L1431.5 350.4 L1433.0 349.9 L1434.4 349.5 L1435.8 349.0 L1437.2 348.6 L1438.7 348.1 L1440.1 347.7 L1441.5 347.2 L1442.9 346.8 L1444.4 346.3 L1445.8 345.9 L1447.2 345.4 L1448.6 345.0 L1450.1 344.6 L1451.5 344.1 L1452.9 343.7 L1454.4 343.3 L1455.8 342.8 L1457.2 342.4 L1458.7 342.0 L1460.1 341.5 L1461.5 341.1 L1463.0 340.7 L1464.4 340.3 L1465.8 339.9 L1467.3 339.5 L1468.7 339.1 L1470.1 338.7 L1471.6 338.2 L1473.0 337.8 L1474.4 337.4 L1475.9 337.0 L1477.3 336.7 L1478.8 336.3 L1480.2 335.9 L1481.6 335.5 L1483.1 335.1 L1484.5 334.7 L1486.0 334.3 L1487.4 333.9 L1488.9 333.6 L1490.3 333.2 L1491.7 332.8 L1493.2 332.5 L1494.6 332.1 L1496.1 331.7 L1497.5 331.4 L1499.0 331.0 L1500.4 330.7 L1501.9 330.3 L1503.3 329.9 L1504.8 329.6 L1506.2 329.3 L1507.7 328.9 L1509.1 328.6 L1510.6 328.2 L1512.0 327.9 L1513.5 327.6 L1514.9 327.2 L1516.4 326.9 L1517.9 326.6 L1519.3 326.3 L1520.8 325.9 L1522.2 325.6 L1523.7 325.3 L1525.1 325.0 L1526.6 324.7 L1528.1 324.4 L1529.5 324.1 L1531.0 323.8 L1532.5 323.5 L1533.9 323.2 L1535.4 322.9 L1536.8 322.6 L1538.3 322.3 L1539.8 322.1 L1541.2 321.8 L1542.7 321.5 L1544.2 321.2 L1545.7 321.0 L1547.1 320.7 L1548.6 320.4 L1550.1 320.2 L1551.5 319.9 L1553.0 319.7 L1554.5 319.4 L1556.0 319.2 L1557.4 318.9 L1558.9 318.7 L1560.4 318.4 L1561.9 318.2 L1563.3 318.0 L1564.8 317.8 L1566.3 317.5 L1567.8 317.3 L1569.3 317.1 L1570.7 316.9 L1572.2 316.7 L1573.7 316.5 L1575.2 316.2 L1576.7 316.0 L1578.2 315.8 L1579.7 315.7 L1581.1 315.5 L1582.6 315.3 L1584.1 315.1 L1585.6 314.9 L1587.1 314.7 L1588.6 314.6 L1590.1 314.4 L1591.6 314.2 L1593.1 314.1 L1594.6 313.9 L1596.1 313.7 L1597.6 313.6 L1599.1 313.4 L1600.6 313.3 L1602.0 313.2 L1603.5 313.0 L1605.1 312.9 L1606.6 312.8 L1608.1 312.6 L1609.6 312.5 L1611.1 312.4 L1612.6 312.3 L1614.1 312.2 L1615.6 312.0 L1617.1 311.9 L1618.6 311.8 L1620.1 311.7 L1621.6 311.7 L1623.1 311.6 L1624.6 311.5 L1626.2 311.4 L1627.7 311.3 L1629.2 311.2 L1630.7 311.2 L1632.2 311.1 L1633.7 311.0 L1635.2 311.0 L1636.8 310.9 L1638.3 310.9 L1639.8 310.8 L1641.3 310.8 L1642.9 310.8 L1644.4 310.7 L1645.9 310.7 L1647.4 310.7 L1649.0 310.7 L1650.5 310.6 L1652.0 310.6" stroke="#000"/>
<path id="c6" d="M184.5 1038.5 L185.5 1038.5 L187.0 1038.4 L188.5 1038.4 L190.0 1038.4 L191.5 1038.3 L193.0 1038.3 L194.5 1038.3 L196.0 1038.2 L197.5 1038.2 L199.0 1038.2 L200.5 1038.1 L202.0 1038.1 L203.5 1038.1 L205.0 1038.0 L206.5 1038.0 L208.0 1038.0 L209.5 1038.0 L211.0 1037.9 L212.5 1037.9 L214.0 1037.9 L215.5 1037.9 L217.0 1037.8 L218.5 1037.8 L220.0 1037.8 L221.5 1037.8 L223.0 1037.7 L224.5 1037.7 L226.0 1037.7 L227.5 1037.7 L229.0 1037.7 L230.5 1037.6 L232.0 1037.6 L233.5 1037.6 L235.0 1037.6 L236.5 1037.6 L238.0 1037.5 L239.5 1037.5 L241.0 1037.5 L242.5 1037.5 L244.0 1037.5 L245.5 1037.5 L247.0 1037.5 L248.5 1037.4 L250.0 1037.4 L251.5 1037.4 L253.0 1037.4 L254.5 1037.4 L256.0 1037.4 L257.4 1037.4 L258.9 1037.4 L260.4 1037.3 L261.9 1037.3 L263.4 1037.3 L264.9 1037.3 L266.4 1037.3 L267.9 1037.3 L269.4 1037.3 L270.9 1037.3 L272.4 1037.3 L273.9 1037.3 L275.4 1037.2 L276.9 1037.2 L278.4 1037.2 L279.9 1037.2 L281.4 1037.2 L282.9 1037.2 L284.4 1037.2 L285.9 1037.2 L287.4 1037.2 L288.9 1037.2 L290.4 1037.2 L291.9 1037.2 L293.4 1037.2 L294.9 1037.2 L296.4 1037.2 L297.9 1037.2 L299.4 1037.2 L300.9 1037.2 L302.4 1037.2 L303.9 1037.2 L305.4 1037.2 L306.9 1037.2 L308.4 1037.2 L309.9 1037.2 L311.4 1037.2 L312.9 1037.2 L314.4 1037.2 L315.9 1037.2 L317.4 1037.2 L318.9 1037.2 L320.4 1037.2 L321.9 1037.2 L323.4 1037.2 L324.9 1037.2 L326.4 1037.2 L327.9 1037.2 L329.4 1037.2 L330.9 1037.2 L332.4 1037.2 L333.9 1037.2 L335.4 1037.2 L336.9 1037.2 L338.4 1037.2 L339.9 1037.2 L341.4 1037.2 L342.9 1037.2 L344.4 1037.2 L345.9 1037.2 L347.4 1037.2 L348.9 1037.2 L350.4 1037.2 L351.9 1037.2 L353.4 1037.2 L354.9 1037.2 L356.4 1037.2 L357.9 1037.3 L359.4 1037.3 L360.9 1037.3 L362.4 1037.3 L363.9 1037.3 L365.4 1037.3 L366.9 1037.3 L368.4 1037.3 L369.9 1037.3 L371.4 1037.3 L372.9 1037.3 L374.4 1037.3 L375.9 1037.3 L377.4 1037.3 L378.9 1037.3 L380.4 1037.3 L381.9 1037.3 L383.4 1037.3 L384.9 1037.4 L386.4 1037.4 L387.9 1037.4 L389.4 1037.4 L390.9 1037.4 L392.4 1037.4 L393.9 1037.4 L395.4 1037.4 L396.9 1037.4 L398.4 1037.4 L399.9 1037.4 L401.4 1037.4 L402.9 1037.4 L404.4 1037.4 L405.9 1037.4 L407.4 1037.4 L408.9 1037.5 L410.4 1037.5 L411.9 1037.5 L413.4 1037.5 L414.9 1037.5 L416.4 1037.5 L417.9 1037.5 L419.4 1037.5 L420.9 1037.5 L422.4 1037.5 L423.9 1037.5 L425.4 1037.5 L426.9 1037.5 L428.4 1037.5 L429.9 1037.5 L431.4 1037.5 L432.9 1037.5 L434.4 1037.5 L435.9 1037.6 L437.4 1037.6 L438.9 1037.6 L440.4 1037.6 L441.9 1037.6 L443.4 1037.6 L444.9 1037.6 L446.4 1037.6 L447.9 1037.6 L449.4 1037.6 L450.9 1037.6 L452.4 1037.6 L453.9 1037.6 L455.4 1037.6 L456.9 1037.6 L458.4 1037.6 L459.9 1037.6 L461.4 1037.6 L462.9 1037.6 L464.4 1037.6 L465.9 1037.6 L467.4 1037.6 L468.9 1037.6 L470.4 1037.6 L471.9 1037.6 L473.4 1037.6 L474.9 1037.6 L476.4 1037.6 L477.9 1037.6 L479.4 1037.6 L480.9 1037.6 L482.4 1037.6 L483.9 1037.6 L485.4 1037.6 L486.9 1037.6 L488.4 1037.6 L489.9 1037.6 L491.4 1037.6 L492.9 1037.6 L494.4 1037.6 L495.9 1037.6 L497.4 1037.6 L498.9 1037.6 L500.4 1037.6 L501.9 1037.6 L503.4 1037.6 L504.9 1037.5 L506.4 1037.5 L507.9 1037.5 L509.4 1037.5 L510.9 1037.5 L512.3 1037.5 L513.8 1037.5 L515.3 1037.5 L516.8 1037.5 L518.3 1037.5 L519.8 1037.5 L521.3 1037.5 L522.8 1037.5 L524.3 1037.4 L525.8 1037.4 L527.3 1037.4 L528.8 1037.4 L530.3 1037.4 L531.8 1037.4 L533.3 1037.4 L534.8 1037.4 L536.3 1037.3 L537.8 1037.3 L539.3 1037.3 L540.8 1037.3 L542.3 1037.3 L543.8 1037.3 L545.3 1037.2 L546.8 1037.2 L548.3 1037.2 L549.8 1037.2 L551.3 1037.2 L552.8 1037.2 L554.3 1037.1 L555.8 1037.1 L557.3 1037.1 L558.8 1037.1 L560.3 1037.1 L561.8 1037.0 L563.3 1037.0 L564.8 1037.0 L566.3 1037.0 L567.8 1036.9 L569.3 1036.9 L570.8 1036.9 L572.3 1036.9 L573.8 1036.8 L575.3 1036.8 L576.8 1036.8 L578.3 1036.8 L579.8 1036.7 L581.3 1036.7 L582.8 1036.7 L584.3 1036.7 L585.8 1036.6 L587.3 1036.6 L588.8 1036.6 L590.3 1036.5 L591.8 1036.5 L593.3 1036.5 L594.8 1036.4 L596.3 1036.4 L597.8 1036.4 L599.3 1036.3 L600.8 1036.3 L602.3 1036.3 L603.8 1036.2 L605.3 1036.2 L606.8 1036.1 L608.3 1036.1 L609.8 1036.1 L611.3 1036.0 L612.8 1036.0 L614.3 1035.9 L615.8 1035.9 L617.3 1035.8 L618.8 1035.8 L620.3 1035.8 L621.8 1035.7 L623.2 1035.7 L624.7 1035.6 L626.2 1035.6 L627.7 1035.5 L629.2 1035.5 L630.7 1035.4 L632.2 1035.4 L633.7 1035.3 L635.2 1035.3 L636.7 1035.2 L638.2 1035.2 L639.7 1035.1 L641.2 1035.1 L642.7 1035.0 L644.2 1035.0 L645.7 1034.9 L647.2 1034.8 L648.7 1034.8 L650.2 1034.7 L651.7 1034.7 L653.2 1034.6 L654.7 1034.5 L656.2 1034.5 L657.7 1034.4 L659.2 1034.4 L660.7 1034.3 L662.2 1034.2 L663.7 1034.2 L665.2 1034.1 L666.7 1034.0 L668.2 1034.0 L669.7 1033.9 L671.2 1033.8 L672.7 1033.8 L674.2 1033.7 L675.7 1033.6 L677.2 1033.5 L678.7 1033.5 L680.2 1033.4 L681.7 1033.3 L683.2 1033.2 L684.7 1033.2 L686.2 1033.1 L687.6 1033.0 L689.1 1032.9 L690.6 1032.8 L692.1 1032.8 L693.6 1032.7 L695.1 1032.6 L696.6 1032.5 L698.1 1032.4 L699.6 1032.3 L701.1 1032.3 L702.6 1032.2 L704.1 1032.1 L705.6 1032.0 L707.1 1031.9 L708.6 1031.8 L710.1 1031.7 L711.6 1031.6 L713.1 1031.5 L714.6 1031.4 L716.1 1031.3 L717.6 1031.2 L719.1 1031.1 L720.6 1031.0 L722.1 1030.9 L723.6 1030.8 L725.1 1030.7 L726.6 1030.6 L728.1 1030.5 L729.6 1030.4 L731.1 1030.3 L732.6 1030.2 L734.1 1030.1 L735.5 1030.0 L737.0 1029.9 L738.5 1029.8 L740.0 1029.7 L741.5 1029.5 L743.0 1029.4 L744.5 1029.3 L746.0 1029.2 L747.5 1029.1 L749.0 1029.0 L750.5 1028.8 L752.0 1028.7 L753.5 1028.6 L755.0 1028.5 L756.5 1028.4 L758.0 1028.2 L759.5 1028.1 L761.0 1028.0 L762.5 1027.9 L764.0 1027.7 L765.5 1027.6 L767.0 1027.5 L768.5 1027.3 L770.0 1027.2 L771.5 1027.1 L773.0 1026.9 L774.4 1026.8 L775.9 1026.6 L777.4 1026.5 L778.9 1026.4 L780.4 1026.2 L781.9 1026.1 L783.4 1025.9 L784.9 1025.8 L786.4 1025.6 L787.9 1025.5 L789.4 1025.3 L790.9 1025.2 L792.4 1025.0 L793.9 1024.9 L795.4 1024.7 L796.9 1024.6 L798.4 1024.4 L799.8 1024.2 L801.3 1024.1 L802.8 1023.9 L804.3 1023.7 L805.8 1023.6 L807.3 1023.4 L808.8 1023.2 L810.3 1023.0 L811.8 1022.9 L813.3 1022.7 L814.8 1022.5 L816.2 1022.3 L817.7 1022.1 L819.2 1022.0 L820.7 1021.8 L822.2 1021.6 L823.7 1021.4 L825.2 1021.2 L826.7 1021.0 L828.2 1020.8 L829.6 1020.6 L831.1 1020.4 L832.6 1020.2 L834.1 1020.0 L835.6 1019.8 L837.1 1019.6 L838.5 1019.4 L840.0 1019.2 L841.5 1018.9 L843.0 1018.7 L844.5 1018.5 L846.0 1018.3 L847.4 1018.1 L848.9 1017.8 L850.4 1017.6 L851.9 1017.4 L853.4 1017.1 L854.8 1016.9 L856.3 1016.7 L857.8 1016.4 L859.3 1016.2 L860.8 1015.9 L862.2 1015.7 L863.7 1015.4 L865.2 1015.2 L866.7 1014.9 L868.1 1014.7 L869.6 1014.4 L871.1 1014.2 L872.6 1013.9 L874.0 1013.6 L875.5 1013.4 L877.0 1013.1 L878.4 1012.8 L879.9 1012.5 L881.4 1012.2 L882.9 1012.0 L884.3 1011.7 L885.8 1011.4 L887.3 1011.1 L888.7 1010.8 L890.2 1010.5 L891.7 1010.2 L893.1 1009.9 L894.6 1009.6 L896.0 1009.3 L897.5 1009.0 L899.0 1008.7 L900.4 1008.3 L901.9 1008.0 L903.4 1007.7 L904.8 1007.4 L906.3 1007.0 L907.7 1006.7 L909.2 1006.4 L910.6 1006.0 L912.1 1005.7 L913.5 1005.3 L915.0 1005.0 L916.5 1004.6 L917.9 1004.3 L919.4 1003.9 L920.8 1003.6 L922.3 1003.2 L923.7 1002.8 L925.2 1002.5 L926.6 1002.1 L928.0 1001.7 L929.5 1001.3 L930.9 1001.0 L932.4 1000.6 L933.8 1000.2 L935.3 999.8 L936.7 999.4 L938.2 999.0 L939.6 998.6 L941.0 998.2 L942.5 997.8 L943.9 997.3 L945.3 996.9 L946.8 996.5 L948.2 996.1 L949.6 995.7 L951.1 995.2 L952.5 994.8 L953.9 994.3 L955.4 993.9 L956.8 993.5 L958.2 993.0 L959.6 992.5 L961.1 992.1 L962.5 991.6 L963.9 991.2 L965.3 990.7 L966.8 990.2 L968.2 989.7 L969.6 989.3 L971.0 988.8 L972.4 988.3 L973.9 987.8 L975.3 987.3 L976.7 986.8 L978.1 986.3 L979.5 985.8 L980.9 985.3 L982.3 984.8 L983.7 984.2 L985.1 983.7 L986.6 983.2 L988.0 982.6 L989.4 982.1 L990.8 981.6 L992.2 981.0 L993.6 980.5 L995.0 979.9 L996.4 979.4 L997.8 978.8 L999.2 978.2 L1000.5 977.7 L1001.9 977.1 L1003.3 976.5 L1004.7 975.9 L1006.1 975.3 L1007.5 974.8 L1008.9 974.2 L1010.3 973.6 L1011.6 973.0 L1013.0 972.3 L1014.4 971.7 L1015.8 971.1 L1017.1 970.5 L1018.5 969.9 L1019.9 969.2 L1021.3 968.6 L1022.6 968.0 L1024.0 967.3 L1025.3 966.7 L1026.7 966.0 L1028.1 965.4 L1029.4 964.7 L1030.8 964.1 L1032.1 963.4 L1033.5 962.7 L1034.8 962.0 L1036.2 961.4 L1037.5 960.7 L1038.9 960.0 L1040.2 959.3 L1041.5 958.6 L1042.9 957.9 L1044.2 957.2 L1045.5 956.5 L1046.8 955.8 L1048.2 955.1 L1049.5 954.3 L1050.8 953.6 L1052.1 952.9 L1053.4 952.1 L1054.7 951.4 L1056.1 950.6 L1057.4 949.9 L1058.7 949.1 L1060.0 948.4 L1061.3 947.6 L1062.5 946.9 L1063.8 946.1 L1065.1 945.3 L1066.4 944.5 L1067.7 943.7 L1069.0 943.0 L1070.2 942.2 L1071.5 941.4 L1072.8 940.6 L1074.0 939.8 L1075.3 938.9 L1076.6 938.1 L1077.8 937.3 L1079.1 936.5 L1080.3 935.7 L1081.6 934.8 L1082.8 934.0 L1084.1 933.1 L1085.3 932.3 L1086.5 931.4 L1087.7 930.6 L1089.0 929.7 L1090.2 928.9 L1091.4 928.0 L1092.6 927.1 L1093.8 926.2 L1095.0 925.4 L1096.2 924.5 L1097.4 923.6 L1098.6 922.7 L1099.8 921.8 L1101.0 920.9 L1102.2 920.0 L1103.4 919.0 L1104.5 918.1 L1105.7 917.2 L1106.9 916.3 L1108.0 915.3 L1109.2 914.4 L1110.4 913.5 L1111.5 912.5 L1112.7 911.6 L1113.8 910.6 L1114.9 909.6 L1116.1 908.7 L1117.2 907.7 L1118.3 906.7 L1119.5 905.8 L1120.6 904.8 L1121.7 903.8 L1122.8 902.8 L1123.9 901.8 L1125.0 900.8 L1126.1 899.8 L1127.2 898.8 L1128.3 897.8 L1129.4 896.8 L1130.5 895.8 L1131.6 894.7 L1132.7 893.7 L1133.7 892.7 L1134.8 891.7 L1135.9 890.6 L1137.0 889.6 L1138.0 888.5 L1139.1 887.5 L1140.1 886.5 L1141.2 885.4 L1142.2 884.3 L1143.3 883.3 L1144.3 882.2 L1145.4 881.2 L1146.4 880.1 L1147.5 879.0 L1148.5 877.9 L1149.5 876.9 L1150.6 875.8 L1151.6 874.7 L1152.6 873.6 L1153.6 872.5 L1154.6 871.4 L1155.7 870.3 L1156.7 869.2 L1157.7 868.1 L1158.7 867.0 L1159.7 865.9 L1160.7 864.8 L1161.7 863.7 L1162.7 862.6 L1163.7 861.5 L1164.7 860.3 L1165.7 859.2 L1166.7 858.1 L1167.6 857.0 L1168.6 855.8 L1169.6 854.7 L1170.6 853.6 L1171.6 852.4 L1172.5 851.3 L1173.5 850.1 L1174.5 849.0 L1175.4 847.8 L1176.4 846.7 L1177.4 845.5 L1178.3 844.4 L1179.3 843.2 L1180.2 842.1 L1181.2 840.9 L1182.2 839.8 L1183.1 838.6 L1184.1 837.4 L1185.0 836.3 L1185.9 835.1 L1186.9 833.9 L1187.8 832.8 L1188.8 831.6 L1189.7 830.4 L1190.7 829.2 L1191.6 828.1 L1192.5 826.9 L1193.5 825.7 L1194.4 824.5 L1195.3 823.4 L1196.2 822.2 L1197.2 821.0 L1198.1 819.8 L1199.0 818.6 L1200.0 817.4 L1200.9 816.2 L1201.8 815.0 L1202.7 813.9 L1203.6 812.7 L1204.6 811.5 L1205.5 810.3 L1206.4 809.1 L1207.3 807.9 L1208.2 806.7 L1209.1 805.5 L1210.0 804.3 L1210.9 803.1 L1211.9 801.9 L1212.8 800.7 L1213.7 799.5 L1214.6 798.3 L1215.5 797.1 L1216.4 795.9 L1217.3 794.7 L1218.2 793.5 L1219.1 792.3 L1220.0 791.1 L1220.9 789.9 L1221.8 788.7 L1222.7 787.5 L1223.6 786.3 L1224.5 785.1 L1225.4 783.9 L1226.3 782.7 L1227.2 781.5 L1228.1 780.2 L1229.0 779.0 L1229.9 777.8 L1230.8 776.6 L1231.7 775.4 L1232.6 774.2 L1233.5 773.0 L1234.4 771.8 L1235.3 770.6 L1236.2 769.4 L1237.1 768.2 L1238.0 767.0 L1238.9 765.8 L1239.8 764.6 L1240.7 763.4 L1241.6 762.2 L1242.5 761.0 L1243.4 759.8 L1244.2 758.6 L1245.1 757.4 L1246.0 756.2 L1246.9 755.0 L1247.8 753.7 L1248.7 752.5 L1249.6 751.3 L1250.5 750.1 L1251.4 748.9 L1252.3 747.7 L1253.2 746.5 L1254.1 745.3 L1255.0 744.1 L1255.9 742.9 L1256.8 741.7 L1257.7 740.5 L1258.6 739.3 L1259.5 738.1 L1260.4 737.0 L1261.3 735.8 L1262.2 734.6 L1263.1 733.4 L1264.0 732.2 L1264.9 731.0 L1265.8 729.8 L1266.7 728.6 L1267.6 727.4 L1268.5 726.2 L1269.4 725.0 L1270.3 723.8 L1271.3 722.6 L1272.2 721.4 L1273.1 720.3 L1274.0 719.1 L1274.9 717.9 L1275.8 716.7 L1276.7 715.5 L1277.6 714.3 L1278.5 713.1 L1279.5 712.0 L1280.4 710.8 L1281.3 709.6 L1282.2 708.4 L1283.1 707.2 L1284.1 706.1 L1285.0 704.9 L1285.9 703.7 L1286.8 702.5 L1287.8 701.4 L1288.7 700.2 L1289.6 699.0 L1290.5 697.9 L1291.5 696.7 L1292.4 695.5 L1293.3 694.4 L1294.3 693.2 L1295.2 692.0 L1296.1 690.9 L1297.1 689.7 L1298.0 688.5 L1299.0 687.4 L1299.9 686.2 L1300.9 685.1 L1301.8 683.9 L1302.8 682.8 L1303.7 681.6 L1304.7 680.5 L1305.6 679.3 L1306.6 678.2 L1307.5 677.0 L1308.5 675.9 L1309.4 674.7 L1310.4 673.6 L1311.4 672.4 L1312.3 671.3 L1313.3 670.2 L1314.3 669.0 L1315.2 667.9 L1316.2 666.8 L1317.2 665.6 L1318.2 664.5 L1319.1 663.4 L1320.1 662.2 L1321.1 661.1 L1322.1 660.0 L1323.1 658.9 L1324.1 657.7 L1325.1 656.6 L1326.1 655.5 L1327.1 654.4 L1328.1 653.3 L1329.1 652.2 L1330.1 651.1 L1331.1 650.0 L1332.1 648.8 L1333.1 647.7 L1334.1 646.6 L1335.1 645.5 L1336.1 644.4 L1337.1 643.4 L1338.2 642.3 L1339.2 641.2 L1340.2 640.1 L1341.2 639.0 L1342.3 637.9 L1343.3 636.8 L1344.3 635.7 L1345.4 634.7 L1346.4 633.6 L1347.5 632.5 L1348.5 631.4 L1349.6 630.4 L1350.6 629.3 L1351.7 628.2 L1352.7 627.2 L1353.8 626.1 L1354.9 625.0 L1355.9 624.0 L1357.0 622.9 L1358.1 621.9 L1359.1 620.8 L1360.2 619.8 L1361.3 618.7 L1362.4 617.7 L1363.4 616.6 L1364.5 615.6 L1365.6 614.6 L1366.7 613.5 L1367.8 612.5 L1368.9 611.5 L1370.0 610.4 L1371.1 609.4 L1372.2 608.4 L1373.3 607.4 L1374.4 606.3 L1375.5 605.3 L1376.6 604.3 L1377.7 603.3 L1378.8 602.3 L1380.0 601.3 L1381.1 600.3 L1382.2 599.3 L1383.3 598.3 L1384.5 597.3 L1385.6 596.3 L1386.7 595.3 L1387.8 594.3 L1389.0 593.3 L1390.1 592.3 L1391.3 591.4 L1392.4 590.4 L1393.6 589.4 L1394.7 588.4 L1395.9 587.5 L1397.0 586.5 L1398.2 585.5 L1399.3 584.6 L1400.5 583.6 L1401.6 582.7 L1402.8 581.7 L1404.0 580.8 L1405.1 579.8 L1406.3 578.9 L1407.5 577.9 L1408.7 577.0 L1409.8 576.0 L1411.0 575.1 L1412.2 574.2 L1413.4 573.3 L1414.6 572.3 L1415.8 571.4 L1416.9 570.5 L1418.1 569.6 L1419.3 568.7 L1420.5 567.7 L1421.7 566.8 L1422.9 565.9 L1424.1 565.0 L1425.3 564.1 L1426.5 563.2 L1427.8 562.3 L1429.0 561.5 L1430.2 560.6 L1431.4 559.7 L1432.6 558.8 L1433.8 557.9 L1435.1 557.0 L1436.3 556.2 L1437.5 555.3 L1438.7 554.4 L1440.0 553.6 L1441.2 552.7 L1442.4 551.9 L1443.7 551.0 L1444.9 550.2 L1446.1 549.3 L1447.4 548.5 L1448.6 547.6 L1449.9 546.8 L1451.1 546.0 L1452.4 545.1 L1453.6 544.3 L1454.9 543.5 L1456.1 542.7 L1457.4 541.8 L1458.7 541.0 L1459.9 540.2 L1461.2 539.4 L1462.5 538.6 L1463.7 537.8 L1465.0 537.0 L1466.3 536.2 L1467.5 535.4 L1468.8 534.6 L1470.1 533.9 L1471.4 533.1 L1472.7 532.3 L1473.9 531.5 L1475.2 530.8 L1476.5 530.0 L1477.8 529.3 L1479.1 528.5 L1480.4 527.8 L1481.7 527.0 L1483.0 526.3 L1484.3 525.5 L1485.6 524.8 L1486.9 524.1 L1488.2 523.3 L1489.5 522.6 L1490.8 521.9 L1492.1 521.2 L1493.5 520.5 L1494.8 519.8 L1496.1 519.1 L1497.4 518.4 L1498.7 517.7 L1500.1 517.0 L1501.4 516.3 L1502.7 515.7 L1504.1 515.0 L1505.4 514.3 L1506.7 513.7 L1508.1 513.0 L1509.4 512.4 L1510.8 511.7 L1512.1 511.1 L1513.5 510.4 L1514.8 509.8 L1516.2 509.2 L1517.5 508.6 L1518.9 507.9 L1520.2 507.3 L1521.6 506.7 L1523.0 506.1 L1524.3 505.5 L1525.7 504.9 L1527.1 504.4 L1528.4 503.8 L1529.8 503.2 L1531.2 502.6 L1532.6 502.1 L1533.9 501.5 L1535.3 501.0 L1536.7 500.4 L1538.1 499.9 L1539.5 499.4 L1540.9 498.8 L1542.3 498.3 L1543.7 497.8 L1545.1 497.3 L1546.5 496.8 L1547.9 496.3 L1549.3 495.8 L1550.7 495.3 L1552.1 494.8 L1553.5 494.3 L1554.9 493.9 L1556.4 493.4 L1557.8 493.0 L1559.2 492.5 L1560.6 492.1 L1562.1 491.6 L1563.5 491.2 L1564.9 490.8 L1566.4 490.4 L1567.8 489.9 L1569.2 489.5 L1570.7 489.1 L1572.1 488.7 L1573.6 488.3 L1575.0 488.0 L1576.4 487.6 L1577.9 487.2 L1579.3 486.8 L1580.8 486.5 L1582.3 486.1 L1583.7 485.8 L1585.2 485.4 L1586.6 485.1 L1588.1 484.7 L1589.6 484.4 L1591.0 484.1 L1592.5 483.8 L1594.0 483.5 L1595.4 483.2 L1596.9 482.9 L1598.4 482.6 L1599.8 482.3 L1601.3 482.0 L1602.8 481.7 L1604.3 481.4 L1605.7 481.2 L1607.2 480.9 L1608.7 480.6 L1610.2 480.4 L1611.7 480.1 L1613.1 479.9 L1614.6 479.7 L1616.1 479.4 L1617.6 479.2 L1619.1 479.0 L1620.6 478.8 L1622.1 478.5 L1623.6 478.3 L1625.1 478.1 L1626.5 477.9 L1628.0 477.7 L1629.5 477.6 L1631.0 477.4 L1632.5 477.2 L1634.0 477.0 L1635.5 476.9 L1637.0 476.7 L1638.5 476.5 L1640.0 476.4 L1641.5 476.2 L1643.0 476.1 L1644.5 475.9 L1646.0 475.8 L1647.5 475.7 L1649.0 475.5 L1650.5 475.4 L1652.0 475.3" stroke="#00f"/>
<path id="c7" d="M184.5 1037.0 L185.5 1037.0 L187.0 1037.0 L188.6 1036.9 L190.1 1036.9 L191.6 1036.9 L193.1 1036.9 L194.6 1036.9 L196.1 1036.8 L197.6 1036.8 L199.2 1036.8 L200.7 1036.8 L202.2 1036.8 L203.7 1036.7 L205.2 1036.7 L206.7 1036.7 L208.2 1036.7 L209.7 1036.6 L211.3 1036.6 L212.8 1036.6 L214.3 1036.6 L215.8 1036.6 L217.3 1036.5 L218.8 1036.5 L220.3 1036.5 L221.8 1036.5 L223.3 1036.5 L224.8 1036.4 L226.3 1036.4 L227.8 1036.4 L229.3 1036.4 L230.9 1036.4 L232.4 1036.3 L233.9 1036.3 L235.4 1036.3 L236.9 1036.3 L238.4 1036.3 L239.9 1036.2 L241.4 1036.2 L242.9 1036.2 L244.4 1036.2 L245.9 1036.1 L247.4 1036.1 L248.9 1036.1 L250.4 1036.1 L251.9 1036.1 L253.4 1036.0 L254.9 1036.0 L256.4 1036.0 L257.9 1036.0 L259.4 1035.9 L260.9 1035.9 L262.4 1035.9 L263.9 1035.9 L265.4 1035.8 L266.9 1035.8 L268.4 1035.8 L269.9 1035.8 L271.4 1035.7 L272.9 1035.7 L274.4 1035.7 L275.9 1035.6 L277.4 1035.6 L278.8 1035.6 L280.3 1035.6 L281.8 1035.5 L283.3 1035.5 L284.8 1035.5 L286.3 1035.5 L287.8 1035.4 L289.3 1035.4 L290.8 1035.4 L292.3 1035.3 L293.8 1035.3 L295.3 1035.3 L296.8 1035.2 L298.3 1035.2 L299.8 1035.2 L301.2 1035.1 L302.7 1035.1 L304.2 1035.1 L305.7 1035.0 L307.2 1035.0 L308.7 1035.0 L310.2 1034.9 L311.7 1034.9 L313.2 1034.9 L314.7 1034.8 L316.2 1034.8 L317.7 1034.7 L319.1 1034.7 L320.6 1034.7 L322.1 1034.6 L323.6 1034.6 L325.1 1034.5 L326.6 1034.5 L328.1 1034.5 L329.6 1034.4 L331.1 1034.4 L332.5 1034.3 L334.0 1034.3 L335.5 1034.2 L337.0 1034.2 L338.5 1034.1 L340.0 1034.1 L341.5 1034.0 L343.0 1034.0 L344.4 1033.9 L345.9 1033.9 L347.4 1033.8 L348.9 1033.8 L350.4 1033.7 L351.9 1033.7 L353.4 1033.6 L354.9 1033.6 L356.3 1033.5 L357.8 1033.5 L359.3 1033.4 L360.8 1033.4 L362.3 1033.3 L363.8 1033.3 L365.3 1033.2 L366.8 1033.1 L368.2 1033.1 L369.7 1033.0 L371.2 1032.9 L372.7 1032.9 L374.2 1032.8 L375.7 1032.8 L377.2 1032.7 L378.7 1032.6 L380.1 1032.6 L381.6 1032.5 L383.1 1032.4 L384.6 1032.4 L386.1 1032.3 L387.6 1032.2 L389.1 1032.1 L390.5 1032.1 L392.0 1032.0 L393.5 1031.9 L395.0 1031.9 L396.5 1031.8 L398.0 1031.7 L399.5 1031.6 L401.0 1031.5 L402.4 1031.5 L403.9 1031.4 L405.4 1031.3 L406.9 1031.2 L408.4 1031.1 L409.9 1031.1 L411.4 1031.0 L412.9 1030.9 L414.3 1030.8 L415.8 1030.7 L417.3 1030.6 L418.8 1030.5 L420.3 1030.4 L421.8 1030.3 L423.3 1030.3 L424.8 1030.2 L426.2 1030.1 L427.7 1030.0 L429.2 1029.9 L430.7 1029.8 L432.2 1029.7 L433.7 1029.6 L435.2 1029.5 L436.7 1029.4 L438.2 1029.3 L439.6 1029.2 L441.1 1029.1 L442.6 1028.9 L444.1 1028.8 L445.6 1028.7 L447.1 1028.6 L448.6 1028.5 L450.1 1028.4 L451.6 1028.3 L453.1 1028.2 L454.5 1028.0 L456.0 1027.9 L457.5 1027.8 L459.0 1027.7 L460.5 1027.6 L462.0 1027.4 L463.5 1027.3 L465.0 1027.2 L466.5 1027.1 L468.0 1026.9 L469.5 1026.8 L471.0 1026.7 L472.4 1026.6 L473.9 1026.4 L475.4 1026.3 L476.9 1026.2 L478.4 1026.0 L479.9 1025.9 L481.4 1025.7 L482.9 1025.6 L484.4 1025.5 L485.9 1025.3 L487.4 1025.2 L488.9 1025.0 L490.4 1024.9 L491.9 1024.7 L493.4 1024.6 L494.9 1024.4 L496.4 1024.3 L497.9 1024.1 L499.4 1024.0 L500.9 1023.8 L502.4 1023.7 L503.9 1023.5 L505.4 1023.3 L506.9 1023.2 L508.4 1023.0 L509.9 1022.9 L511.4 1022.7 L512.9 1022.5 L514.4 1022.4 L515.9 1022.2 L517.4 1022.0 L518.9 1021.8 L520.4 1021.7 L521.9 1021.5 L523.4 1021.3 L524.9 1021.1 L526.4 1020.9 L527.9 1020.8 L529.4 1020.6 L530.9 1020.4 L532.4 1020.2 L533.9 1020.0 L535.4 1019.8 L536.9 1019.6 L538.4 1019.4 L539.9 1019.2 L541.4 1019.1 L542.9 1018.9 L544.4 1018.7 L546.0 1018.4 L547.5 1018.2 L549.0 1018.0 L550.5 1017.8 L552.0 1017.6 L553.5 1017.4 L555.0 1017.2 L556.5 1017.0 L558.0 1016.8 L559.5 1016.5 L561.0 1016.3 L562.5 1016.1 L564.0 1015.9 L565.5 1015.6 L567.0 1015.4 L568.6 1015.2 L570.1 1014.9 L571.6 1014.7 L573.1 1014.5 L574.6 1014.2 L576.1 1014.0 L577.6 1013.7 L579.1 1013.5 L580.6 1013.2 L582.1 1013.0 L583.6 1012.7 L585.1 1012.5 L586.6 1012.2 L588.1 1012.0 L589.6 1011.7 L591.1 1011.4 L592.6 1011.2 L594.1 1010.9 L595.6 1010.6 L597.1 1010.3 L598.6 1010.1 L600.1 1009.8 L601.6 1009.5 L603.1 1009.2 L604.6 1008.9 L606.1 1008.6 L607.6 1008.3 L609.1 1008.0 L610.5 1007.7 L612.0 1007.4 L613.5 1007.1 L615.0 1006.8 L616.5 1006.5 L618.0 1006.2 L619.5 1005.9 L621.0 1005.6 L622.4 1005.2 L623.9 1004.9 L625.4 1004.6 L626.9 1004.3 L628.4 1003.9 L629.9 1003.6 L631.3 1003.2 L632.8 1002.9 L634.3 1002.5 L635.8 1002.2 L637.2 1001.8 L638.7 1001.5 L640.2 1001.1 L641.7 1000.8 L643.1 1000.4 L644.6 1000.0 L646.1 999.7 L647.5 999.3 L649.0 998.9 L650.4 998.5 L651.9 998.1 L653.4 997.7 L654.8 997.4 L656.3 997.0 L657.7 996.6 L659.2 996.2 L660.6 995.7 L662.1 995.3 L663.5 994.9 L665.0 994.5 L666.4 994.1 L667.9 993.7 L669.3 993.2 L670.8 992.8 L672.2 992.4 L673.6 991.9 L675.1 991.5 L676.5 991.0 L677.9 990.6 L679.4 990.1 L680.8 989.7 L682.2 989.2 L683.7 988.7 L685.1 988.3 L686.5 987.8 L687.9 987.3 L689.3 986.8 L690.7 986.4 L692.2 985.9 L693.6 985.4 L695.0 984.9 L696.4 984.4 L697.8 983.9 L699.2 983.4 L700.6 982.9 L702.0 982.3 L703.4 981.8 L704.8 981.3 L706.2 980.8 L707.6 980.2 L709.0 979.7 L710.3 979.1 L711.7 978.6 L713.1 978.0 L714.5 977.5 L715.9 976.9 L717.2 976.4 L718.6 975.8 L720.0 975.2 L721.3 974.6 L722.7 974.1 L724.1 973.5 L725.4 972.9 L726.8 972.3 L728.1 971.7 L729.5 971.1 L730.8 970.5 L732.2 969.9 L733.5 969.2 L734.9 968.6 L736.2 968.0 L737.6 967.4 L738.9 966.7 L740.2 966.1 L741.5 965.4 L742.9 964.8 L744.2 964.1 L745.5 963.5 L746.8 962.8 L748.1 962.1 L749.5 961.4 L750.8 960.8 L752.1 960.1 L753.4 959.4 L754.7 958.7 L756.0 958.0 L757.3 957.3 L758.6 956.6 L759.8 955.8 L761.1 955.1 L762.4 954.4 L763.7 953.7 L765.0 952.9 L766.2 952.2 L767.5 951.4 L768.8 950.7 L770.0 949.9 L771.3 949.2 L772.6 948.4 L773.8 947.6 L775.1 946.8 L776.3 946.1 L777.5 945.3 L778.8 944.5 L780.0 943.7 L781.3 942.9 L782.5 942.0 L783.7 941.2 L784.9 940.4 L786.1 939.6 L787.4 938.7 L788.6 937.9 L789.8 937.1 L791.0 936.2 L792.2 935.4 L793.4 934.5 L794.6 933.6 L795.8 932.8 L797.0 931.9 L798.2 931.0 L799.3 930.1 L800.5 929.2 L801.7 928.3 L802.9 927.4 L804.0 926.5 L805.2 925.6 L806.4 924.7 L807.5 923.8 L808.7 922.9 L809.8 921.9 L811.0 921.0 L812.1 920.1 L813.3 919.1 L814.4 918.2 L815.5 917.2 L816.7 916.3 L817.8 915.3 L818.9 914.3 L820.0 913.4 L821.2 912.4 L822.3 911.4 L823.4 910.4 L824.5 909.4 L825.6 908.4 L826.7 907.4 L827.8 906.4 L828.9 905.4 L830.0 904.4 L831.1 903.4 L832.2 902.4 L833.3 901.4 L834.3 900.3 L835.4 899.3 L836.5 898.3 L837.5 897.2 L838.6 896.2 L839.7 895.1 L840.7 894.1 L841.8 893.0 L842.8 892.0 L843.9 890.9 L844.9 889.8 L846.0 888.8 L847.0 887.7 L848.1 886.6 L849.1 885.5 L850.1 884.4 L851.1 883.4 L852.2 882.3 L853.2 881.2 L854.2 880.1 L855.2 879.0 L856.2 877.9 L857.2 876.7 L858.2 875.6 L859.2 874.5 L860.2 873.4 L861.2 872.3 L862.2 871.1 L863.2 870.0 L864.2 868.9 L865.2 867.7 L866.1 866.6 L867.1 865.4 L868.1 864.3 L869.1 863.1 L870.0 862.0 L871.0 860.8 L871.9 859.7 L872.9 858.5 L873.8 857.3 L874.8 856.2 L875.7 855.0 L876.7 853.8 L877.6 852.6 L878.5 851.5 L879.5 850.3 L880.4 849.1 L881.3 847.9 L882.3 846.7 L883.2 845.5 L884.1 844.3 L885.0 843.1 L885.9 841.9 L886.8 840.7 L887.7 839.5 L888.6 838.3 L889.5 837.1 L890.4 835.9 L891.3 834.6 L892.2 833.4 L893.1 832.2 L893.9 831.0 L894.8 829.7 L895.7 828.5 L896.6 827.3 L897.4 826.0 L898.3 824.8 L899.2 823.6 L900.0 822.3 L900.9 821.1 L901.7 819.8 L902.6 818.6 L903.4 817.3 L904.2 816.1 L905.1 814.8 L905.9 813.6 L906.8 812.3 L907.6 811.1 L908.4 809.8 L909.2 808.5 L910.1 807.3 L910.9 806.0 L911.7 804.7 L912.5 803.5 L913.3 802.2 L914.1 800.9 L914.9 799.6 L915.7 798.3 L916.5 797.1 L917.3 795.8 L918.1 794.5 L918.9 793.2 L919.6 791.9 L920.4 790.6 L921.2 789.4 L922.0 788.1 L922.7 786.8 L923.5 785.5 L924.3 784.2 L925.0 782.9 L925.8 781.6 L926.5 780.3 L927.3 779.0 L928.0 777.7 L928.8 776.4 L929.5 775.1 L930.3 773.8 L931.0 772.5 L931.8 771.2 L932.5 769.9 L933.2 768.5 L934.0 767.2 L934.7 765.9 L935.4 764.6 L936.1 763.3 L936.9 762.0 L937.6 760.7 L938.3 759.3 L939.0 758.0 L939.7 756.7 L940.4 755.4 L941.2 754.0 L941.9 752.7 L942.6 751.4 L943.3 750.1 L944.0 748.7 L944.7 747.4 L945.4 746.1 L946.1 744.8 L946.8 743.4 L947.5 742.1 L948.2 740.8 L948.9 739.4 L949.6 738.1 L950.2 736.8 L950.9 735.4 L951.6 734.1 L952.3 732.8 L953.0 731.4 L953.7 730.1 L954.4 728.8 L955.0 727.4 L955.7 726.1 L956.4 724.7 L957.1 723.4 L957.8 722.1 L958.4 720.7 L959.1 719.4 L959.8 718.0 L960.5 716.7 L961.1 715.3 L961.8 714.0 L962.5 712.7 L963.1 711.3 L963.8 710.0 L964.5 708.6 L965.2 707.3 L965.8 705.9 L966.5 704.6 L967.2 703.2 L967.8 701.9 L968.5 700.5 L969.2 699.2 L969.8 697.8 L970.5 696.5 L971.2 695.1 L971.8 693.8 L972.5 692.4 L973.2 691.1 L973.8 689.8 L974.5 688.4 L975.2 687.1 L975.8 685.7 L976.5 684.4 L977.2 683.0 L977.8 681.7 L978.5 680.3 L979.2 679.0 L979.8 677.6 L980.5 676.3 L981.2 674.9 L981.9 673.6 L982.5 672.2 L983.2 670.9 L983.9 669.5 L984.5 668.2 L985.2 666.8 L985.9 665.5 L986.6 664.1 L987.2 662.8 L987.9 661.4 L988.6 660.1 L989.3 658.8 L989.9 657.4 L990.6 656.1 L991.3 654.7 L992.0 653.4 L992.7 652.0 L993.4 650.7 L994.0 649.4 L994.7 648.0 L995.4 646.7 L996.1 645.3 L996.8 644.0 L997.5 642.6 L998.2 641.3 L998.9 640.0 L999.6 638.6 L1000.3 637.3 L1001.0 636.0 L1001.7 634.6 L1002.4 633.3 L1003.1 632.0 L1003.8 630.6 L1004.5 629.3 L1005.2 628.0 L1005.9 626.6 L1006.6 625.3 L1007.3 624.0 L1008.0 622.6 L1008.8 621.3 L1009.5 620.0 L1010.2 618.7 L1010.9 617.3 L1011.7 616.0 L1012.4 614.7 L1013.1 613.4 L1013.8 612.0 L1014.6 610.7 L1015.3 609.4 L1016.0 608.1 L1016.8 606.8 L1017.5 605.4 L1018.3 604.1 L1019.0 602.8 L1019.7 601.5 L1020.5 600.2 L1021.2 598.9 L1022.0 597.6 L1022.7 596.3 L1023.5 595.0 L1024.2 593.7 L1025.0 592.4 L1025.8 591.0 L1026.5 589.7 L1027.3 588.4 L1028.1 587.2 L1028.8 585.9 L1029.6 584.6 L1030.4 583.3 L1031.1 582.0 L1031.9 580.7 L1032.7 579.4 L1033.5 578.1 L1034.3 576.8 L1035.1 575.5 L1035.8 574.3 L1036.6 573.0 L1037.4 571.7 L1038.2 570.4 L1039.0 569.1 L1039.8 567.9 L1040.6 566.6 L1041.4 565.3 L1042.2 564.0 L1043.0 562.8 L1043.8 561.5 L1044.7 560.2 L1045.5 559.0 L1046.3 557.7 L1047.1 556.5 L1047.9 555.2 L1048.7 554.0 L1049.6 552.7 L1050.4 551.4 L1051.2 550.2 L1052.1 549.0 L1052.9 547.7 L1053.7 546.5 L1054.6 545.2 L1055.4 544.0 L1056.3 542.7 L1057.1 541.5 L1058.0 540.3 L1058.8 539.0 L1059.7 537.8 L1060.5 536.6 L1061.4 535.4 L1062.3 534.1 L1063.1 532.9 L1064.0 531.7 L1064.9 530.5 L1065.8 529.3 L1066.6 528.1 L1067.5 526.9 L1068.4 525.7 L1069.3 524.5 L1070.2 523.3 L1071.1 522.1 L1071.9 520.9 L1072.8 519.7 L1073.7 518.5 L1074.6 517.3 L1075.5 516.1 L1076.5 514.9 L1077.4 513.7 L1078.3 512.6 L1079.2 511.4 L1080.1 510.2 L1081.0 509.0 L1082.0 507.9 L1082.9 506.7 L1083.8 505.5 L1084.7 504.4 L1085.7 503.2 L1086.6 502.1 L1087.6 500.9 L1088.5 499.8 L1089.5 498.6 L1090.4 497.5 L1091.4 496.3 L1092.3 495.2 L1093.3 494.1 L1094.2 492.9 L1095.2 491.8 L1096.2 490.7 L1097.2 489.6 L1098.1 488.4 L1099.1 487.3 L1100.1 486.2 L1101.1 485.1 L1102.1 484.0 L1103.0 482.9 L1104.0 481.8 L1105.0 480.7 L1106.0 479.6 L1107.0 478.5 L1108.1 477.4 L1109.1 476.3 L1110.1 475.2 L1111.1 474.2 L1112.1 473.1 L1113.1 472.0 L1114.2 470.9 L1115.2 469.9 L1116.2 468.8 L1117.3 467.7 L1118.3 466.7 L1119.3 465.6 L1120.4 464.6 L1121.4 463.5 L1122.5 462.5 L1123.6 461.5 L1124.6 460.4 L1125.7 459.4 L1126.7 458.4 L1127.8 457.3 L1128.9 456.3 L1130.0 455.3 L1131.0 454.3 L1132.1 453.3 L1133.2 452.3 L1134.3 451.3 L1135.4 450.3 L1136.5 449.3 L1137.6 448.3 L1138.7 447.3 L1139.8 446.3 L1140.9 445.3 L1142.1 444.3 L1143.2 443.4 L1144.3 442.4 L1145.4 441.4 L1146.6 440.5 L1147.7 439.5 L1148.8 438.6 L1150.0 437.6 L1151.1 436.7 L1152.3 435.7 L1153.4 434.8 L1154.6 433.8 L1155.7 432.9 L1156.9 432.0 L1158.0 431.0 L1159.2 430.1 L1160.4 429.2 L1161.6 428.3 L1162.7 427.4 L1163.9 426.5 L1165.1 425.6 L1166.3 424.7 L1167.5 423.8 L1168.7 422.9 L1169.8 422.0 L1171.0 421.1 L1172.2 420.2 L1173.5 419.3 L1174.7 418.4 L1175.9 417.6 L1177.1 416.7 L1178.3 415.8 L1179.5 415.0 L1180.7 414.1 L1182.0 413.2 L1183.2 412.4 L1184.4 411.5 L1185.6 410.7 L1186.9 409.8 L1188.1 409.0 L1189.3 408.2 L1190.6 407.3 L1191.8 406.5 L1193.1 405.7 L1194.3 404.8 L1195.6 404.0 L1196.8 403.2 L1198.1 402.4 L1199.4 401.6 L1200.6 400.8 L1201.9 400.0 L1203.1 399.2 L1204.4 398.4 L1205.7 397.6 L1207.0 396.8 L1208.2 396.0 L1209.5 395.2 L1210.8 394.4 L1212.1 393.6 L1213.4 392.9 L1214.7 392.1 L1215.9 391.3 L1217.2 390.5 L1218.5 389.8 L1219.8 389.0 L1221.1 388.3 L1222.4 387.5 L1223.7 386.7 L1225.0 386.0 L1226.3 385.3 L1227.7 384.5 L1229.0 383.8 L1230.3 383.0 L1231.6 382.3 L1232.9 381.6 L1234.2 380.8 L1235.5 380.1 L1236.9 379.4 L1238.2 378.7 L1239.5 378.0 L1240.8 377.2 L1242.2 376.5 L1243.5 375.8 L1244.8 375.1 L1246.2 374.4 L1247.5 373.7 L1248.8 373.0 L1250.2 372.3 L1251.5 371.6 L1252.9 370.9 L1254.2 370.3 L1255.6 369.6 L1256.9 368.9 L1258.3 368.2 L1259.6 367.5 L1261.0 366.9 L1262.3 366.2 L1263.7 365.5 L1265.0 364.9 L1266.4 364.2 L1267.7 363.6 L1269.1 362.9 L1270.5 362.3 L1271.8 361.6 L1273.2 361.0 L1274.6 360.3 L1275.9 359.7 L1277.3 359.0 L1278.7 358.4 L1280.0 357.8 L1281.4 357.1 L1282.8 356.5 L1284.2 355.9 L1285.5 355.3 L1286.9 354.6 L1288.3 354.0 L1289.7 353.4 L1291.0 352.8 L1292.4 352.2 L1293.8 351.6 L1295.2 351.0 L1296.6 350.4 L1298.0 349.8 L1299.3 349.2 L1300.7 348.6 L1302.1 348.0 L1303.5 347.4 L1304.9 346.8 L1306.3 346.2 L1307.7 345.6 L1309.1 345.1 L1310.4 344.5 L1311.8 343.9 L1313.2 343.3 L1314.6 342.8 L1316.0 342.2 L1317.4 341.6 L1318.8 341.1 L1320.2 340.5 L1321.6 339.9 L1323.0 339.4 L1324.4 338.8 L1325.8 338.3 L1327.2 337.7 L1328.6 337.2 L1330.0 336.6 L1331.4 336.1 L1332.8 335.6 L1334.2 335.0 L1335.6 334.5 L1337.0 334.0 L1338.5 333.4 L1339.9 332.9 L1341.3 332.4 L1342.7 331.9 L1344.1 331.3 L1345.5 330.8 L1346.9 330.3 L1348.3 329.8 L1349.7 329.3 L1351.2 328.8 L1352.6 328.3 L1354.0 327.8 L1355.4 327.3 L1356.8 326.8 L1358.2 326.3 L1359.7 325.8 L1361.1 325.3 L1362.5 324.8 L1363.9 324.3 L1365.3 323.8 L1366.8 323.4 L1368.2 322.9 L1369.6 322.4 L1371.0 321.9 L1372.5 321.5 L1373.9 321.0 L1375.3 320.5 L1376.7 320.1 L1378.2 319.6 L1379.6 319.1 L1381.0 318.7 L1382.5 318.2 L1383.9 317.8 L1385.3 317.3 L1386.7 316.9 L1388.2 316.4 L1389.6 316.0 L1391.0 315.5 L1392.5 315.1 L1393.9 314.7 L1395.4 314.2 L1396.8 313.8 L1398.2 313.4 L1399.7 313.0 L1401.1 312.5 L1402.5 312.1 L1404.0 311.7 L1405.4 311.3 L1406.9 310.9 L1408.3 310.4 L1409.7 310.0 L1411.2 309.6 L1412.6 309.2 L1414.1 308.8 L1415.5 308.4 L1417.0 308.0 L1418.4 307.6 L1419.9 307.2 L1421.3 306.8 L1422.7 306.4 L1424.2 306.1 L1425.6 305.7 L1427.1 305.3 L1428.5 304.9 L1430.0 304.5 L1431.4 304.2 L1432.9 303.8 L1434.3 303.4 L1435.8 303.0 L1437.3 302.7 L1438.7 302.3 L1440.2 302.0 L1441.6 301.6 L1443.1 301.2 L1444.5 300.9 L1446.0 300.5 L1447.4 300.2 L1448.9 299.8 L1450.3 299.5 L1451.8 299.1 L1453.3 298.8 L1454.7 298.5 L1456.2 298.1 L1457.6 297.8 L1459.1 297.5 L1460.6 297.1 L1462.0 296.8 L1463.5 296.5 L1465.0 296.1 L1466.4 295.8 L1467.9 295.5 L1469.3 295.2 L1470.8 294.9 L1472.3 294.6 L1473.7 294.3 L1475.2 293.9 L1476.7 293.6 L1478.1 293.3 L1479.6 293.0 L1481.1 292.7 L1482.5 292.4 L1484.0 292.2 L1485.5 291.9 L1486.9 291.6 L1488.4 291.3 L1489.9 291.0 L1491.4 290.7 L1492.8 290.4 L1494.3 290.2 L1495.8 289.9 L1497.2 289.6 L1498.7 289.3 L1500.2 289.1 L1501.7 288.8 L1503.1 288.5 L1504.6 288.3 L1506.1 288.0 L1507.6 287.7 L1509.0 287.5 L1510.5 287.2 L1512.0 287.0 L1513.5 286.7 L1514.9 286.5 L1516.4 286.2 L1517.9 286.0 L1519.4 285.7 L1520.9 285.5 L1522.3 285.3 L1523.8 285.0 L1525.3 284.8 L1526.8 284.6 L1528.3 284.3 L1529.7 284.1 L1531.2 283.9 L1532.7 283.7 L1534.2 283.5 L1535.7 283.2 L1537.1 283.0 L1538.6 282.8 L1540.1 282.6 L1541.6 282.4 L1543.1 282.2 L1544.6 282.0 L1546.0 281.8 L1547.5 281.6 L1549.0 281.4 L1550.5 281.2 L1552.0 281.0 L1553.5 280.8 L1555.0 280.6 L1556.4 280.4 L1557.9 280.2 L1559.4 280.0 L1560.9 279.9 L1562.4 279.7 L1563.9 279.5 L1565.4 279.3 L1566.9 279.2 L1568.3 279.0 L1569.8 278.8 L1571.3 278.6 L1572.8 278.5 L1574.3 278.3 L1575.8 278.2 L1577.3 278.0 L1578.8 277.8 L1580.3 277.7 L1581.7 277.5 L1583.2 277.4 L1584.7 277.2 L1586.2 277.1 L1587.7 276.9 L1589.2 276.8 L1590.7 276.7 L1592.2 276.5 L1593.7 276.4 L1595.2 276.3 L1596.7 276.1 L1598.2 276.0 L1599.6 275.9 L1601.1 275.7 L1602.6 275.6 L1604.1 275.5 L1605.6 275.4 L1607.1 275.3 L1608.6 275.1 L1610.1 275.0 L1611.6 274.9 L1613.1 274.8 L1614.6 274.7 L1616.1 274.6 L1617.6 274.5 L1619.1 274.4 L1620.6 274.3 L1622.1 274.2 L1623.6 274.1 L1625.1 274.0 L1626.6 273.9 L1628.0 273.8 L1629.5 273.8 L1631.0 273.7 L1632.5 273.6 L1634.0 273.5 L1635.5 273.4 L1637.0 273.3 L1638.5 273.3 L1640.0 273.2 L1641.5 273.1 L1643.0 273.1 L1644.5 273.0 L1646.0 272.9 L1647.5 272.9 L1649.0 272.8 L1650.5 272.8 L1652.0 272.7" stroke="#008b00"/>
</defs>
<path d="M194.6 1038.5L196.1 1038.5L197.6 1038.5L199.1 1038.5L200.6 1038.5L202.1 1038.5L203.6 1038.5L205.1 1038.5L206.6 1038.5L208.1 1038.5L209.7 1038.5L211.2 1038.5L212.1 1038.5M234.4 1038.5L235.3 1038.5L236.8 1038.5L238.3 1038.5L239.8 1038.5L241.3 1038.5L242.8 1038.5L244.3 1038.5L245.8 1038.5L247.3 1038.5L248.8 1038.5L250.3 1038.5L251.8 1038.5L251.9 1038.5M274.1 1038.4L274.4 1038.4L275.9 1038.4L277.4 1038.4L278.9 1038.4L280.4 1038.4L281.9 1038.4L283.4 1038.4L284.9 1038.4L286.4 1038.4L287.9 1038.4L289.4 1038.4L290.9 1038.4L291.6 1038.4M313.9 1038.5L315.0 1038.5L316.5 1038.5L318.0 1038.5L319.5 1038.5L321.0 1038.5L322.5 1038.5L324.0 1038.5L325.5 1038.5L327.0 1038.5L328.5 1038.5L330.0 1038.5L331.4 1038.5M353.6 1038.5L354.0 1038.5L355.5 1038.5L357.0 1038.5L358.5 1038.5L360.0 1038.5L361.5 1038.5L363.0 1038.5L364.5 1038.5L366.0 1038.5L367.5 1038.5L369.0 1038.5L370.5 1038.5L371.1 1038.5M393.4 1038.5L394.4 1038.5L395.9 1038.5L397.4 1038.5L398.9 1038.5L400.4 1038.5L401.9 1038.5L403.4 1038.5L404.9 1038.5L406.4 1038.5L407.9 1038.5L409.4 1038.5L410.9 1038.5M433.1 1038.5L433.4 1038.5L434.9 1038.5L436.4 1038.5L437.9 1038.5L439.4 1038.5L440.9 1038.5L442.4 1038.5L443.8 1038.5L445.3 1038.5L446.8 1038.5L448.3 1038.5L449.8 1038.5L450.6 1038.5M472.9 1038.5L473.8 1038.5L475.3 1038.5L476.8 1038.5L478.2 1038.5L479.7 1038.5L481.2 1038.5L482.7 1038.5L484.2 1038.5L485.7 1038.5L487.2 1038.5L488.7 1038.5L490.2 1038.5L490.4 1038.5M512.6 1038.5L512.6 1038.5L514.1 1038.5L515.6 1038.5L517.1 1038.5L518.6 1038.5L520.1 1038.5L521.6 1038.5L523.1 1038.5L524.6 1038.5L526.1 1038.5L527.6 1038.5L529.1 1038.5L530.1 1038.5M552.4 1038.5L553.0 1038.5L554.5 1038.5L556.0 1038.5L557.4 1038.5L558.9 1038.5L560.4 1038.5L561.9 1038.5L563.4 1038.5L564.9 1038.5L566.4 1038.5L567.9 1038.5L569.4 1038.5L569.9 1038.5M592.1 1038.1L593.3 1038.1L594.8 1038.0L596.3 1038.0L597.8 1038.0L599.3 1037.9L600.8 1037.9L602.3 1037.9L603.7 1037.8L605.2 1037.8L606.7 1037.8L608.2 1037.7L609.6 1037.7" stroke="#f00" stroke-width="4.00"/>
<path d="M631.8 1037.1L632.1 1037.1L633.6 1037.1L635.1 1037.0L636.6 1037.0L638.1 1036.9L639.6 1036.9L641.1 1036.8L642.6 1036.8L644.1 1036.7L645.6 1036.7L647.0 1036.6L648.5 1036.6L649.3 1036.6M671.6 1035.7L672.4 1035.7L673.9 1035.6L675.4 1035.6L676.9 1035.5L678.4 1035.4L679.9 1035.4L681.4 1035.3L682.9 1035.2L684.4 1035.2L685.9 1035.1L687.4 1035.0L688.9 1035.0L689.0 1035.0M711.3 1033.8L711.3 1033.8L712.8 1033.8L714.3 1033.7L715.8 1033.6L717.2 1033.5L718.7 1033.4L720.2 1033.3L721.7 1033.2L723.2 1033.2L724.7 1033.1L726.2 1033.0L727.7 1032.9L728.7 1032.8M750.9 1031.4L751.6 1031.4L753.1 1031.2L754.6 1031.1L756.1 1031.0L757.6 1030.9L759.1 1030.8L760.6 1030.7L762.1 1030.6L763.6 1030.5L765.1 1030.4L766.6 1030.3L768.1 1030.2L768.4 1030.1M790.6 1028.3L792.0 1028.2L793.5 1028.1L795.0 1028.0L796.5 1027.8L798.0 1027.7L799.5 1027.6L801.0 1027.4L802.5 1027.3L804.0 1027.2L805.4 1027.0L806.9 1026.9L808.0 1026.8" stroke="#f00" stroke-width="4.25"/>
<path d="M830.1 1024.6L830.9 1024.5L832.4 1024.4L833.9 1024.2L835.4 1024.1L836.9 1023.9L838.4 1023.7L839.9 1023.6L841.4 1023.4L842.8 1023.2L844.3 1023.1L845.8 1022.9L847.3 1022.7L847.5 1022.7M869.6 1020.0L869.7 1020.0L871.2 1019.8L872.7 1019.5L874.2 1019.3L875.7 1019.1L877.2 1018.9L878.7 1018.7L880.2 1018.5L881.6 1018.3L883.1 1018.1L884.6 1017.9L886.1 1017.6L887.0 1017.5" stroke="#f00" stroke-width="4.50"/>
<path d="M908.9 1014.0L909.8 1013.8L911.3 1013.5L912.8 1013.3L914.3 1013.0L915.7 1012.7L917.2 1012.5L918.7 1012.2L920.2 1011.9L921.6 1011.6L923.1 1011.4L924.6 1011.1L926.1 1010.8L926.1 1010.8M947.9 1006.1L948.0 1006.1L949.5 1005.8L951.0 1005.4L952.4 1005.1L953.9 1004.7L955.3 1004.4L956.8 1004.0L958.2 1003.7L959.7 1003.3L961.1 1003.0L962.6 1002.6L964.0 1002.2L964.9 1002.0M1475.0 603.4L1475.7 603.2L1477.1 602.8L1478.6 602.5L1480.0 602.2L1481.5 601.9L1482.9 601.6L1484.4 601.3L1485.8 601.1L1487.3 600.8L1488.8 600.6L1490.2 600.5L1491.7 600.3L1492.3 600.2M1567.5 666.3L1567.5 666.5L1567.8 668.0L1568.1 669.5L1568.4 671.0L1568.7 672.5L1569.0 674.0L1569.3 675.5L1569.6 677.1L1569.8 678.6L1570.1 680.1L1570.3 681.6L1570.6 683.1L1570.9 684.6L1571.1 686.2L1571.4 687.6" stroke="#f00" stroke-width="4.75"/>
<path d="M986.3 996.1L987.1 995.8L988.5 995.4L990.0 995.0L991.4 994.5L992.8 994.1L994.3 993.6L995.7 993.2L997.1 992.7L998.5 992.3L1000.0 991.8L1001.4 991.4L1002.8 990.9L1003.0 990.8M1514.4 600.9L1515.2 601.1L1516.7 601.4L1518.1 601.7L1519.5 602.0L1521.0 602.4L1522.4 602.8L1523.8 603.2L1525.1 603.6L1526.5 604.1L1527.9 604.6L1529.2 605.2L1530.5 605.8L1530.8 605.9M1576.3 714.1L1576.4 714.5L1576.7 715.9L1577.1 717.4L1577.4 718.8L1577.8 720.2L1578.2 721.7L1578.6 723.1L1579.0 724.5L1579.4 725.9L1579.8 727.3L1580.3 728.7L1580.8 730.1L1581.2 731.4L1581.7 732.8L1582.2 734.0M1639.1 789.8L1639.2 789.9L1640.6 790.4L1642.0 791.0L1643.4 791.5L1644.8 792.0L1646.3 792.5L1647.7 792.9L1649.1 793.4L1650.6 793.8L1652.0 794.2" stroke="#f00" stroke-width="5.00"/>
<path d="M1024.1 983.7L1025.3 983.3L1026.7 982.7L1028.1 982.2L1029.5 981.7L1030.9 981.2L1032.3 980.6L1033.7 980.1L1035.1 979.6L1036.5 979.0L1037.9 978.5L1039.2 977.9L1040.4 977.4M1060.8 968.5L1061.1 968.4L1062.4 967.8L1063.8 967.1L1065.1 966.5L1066.5 965.8L1067.8 965.2L1069.1 964.5L1070.5 963.9L1071.8 963.2L1073.1 962.5L1074.4 961.9L1075.8 961.2L1076.5 960.8M1438.3 618.5L1439.3 618.0L1440.7 617.3L1442.0 616.6L1443.4 615.9L1444.8 615.2L1446.1 614.5L1447.5 613.8L1448.9 613.2L1450.3 612.5L1451.6 611.9L1453.0 611.3L1454.0 610.9" stroke="#f00" stroke-width="5.25"/>
<path d="M1096.0 950.0L1096.5 949.7L1097.8 949.0L1099.1 948.2L1100.3 947.4L1101.6 946.7L1102.9 945.9L1104.1 945.1L1105.4 944.4L1106.6 943.6L1107.9 942.8L1109.1 942.0L1110.3 941.2L1110.9 940.9M1129.2 928.2L1129.7 927.9L1130.9 927.0L1132.1 926.1L1133.2 925.2L1134.4 924.3L1135.6 923.4L1136.7 922.5L1137.9 921.6L1139.0 920.7L1140.2 919.8L1141.3 918.9L1142.5 917.9L1143.0 917.5M1239.7 814.4L1240.1 813.8L1241.1 812.6L1242.0 811.5L1242.9 810.3L1243.8 809.1L1244.7 807.9L1245.7 806.8L1246.6 805.6L1247.5 804.4L1248.4 803.2L1249.3 802.0L1250.2 800.9L1250.6 800.3M1266.5 780.2L1267.0 779.6L1267.9 778.4L1268.8 777.2L1269.8 776.1L1270.7 774.9L1271.6 773.7L1272.5 772.5L1273.5 771.4L1274.4 770.2L1275.3 769.0L1276.3 767.9L1277.2 766.7L1278.2 765.5L1279.1 764.3L1280.0 763.2L1280.5 762.6M1402.2 641.0L1403.2 640.3L1404.4 639.4L1405.7 638.6L1406.9 637.7L1408.2 636.9L1409.4 636.0L1410.7 635.2L1411.9 634.4L1413.2 633.5L1414.4 632.7L1415.7 631.9L1417.0 631.1L1418.2 630.3M1549.7 621.3L1550.0 621.7L1550.9 622.8L1551.7 624.0L1552.5 625.2L1553.3 626.5L1554.0 627.7L1554.7 629.0L1555.5 630.3L1556.1 631.6L1556.8 633.0L1557.5 634.3L1558.1 635.7L1558.7 637.0L1559.3 638.4L1559.8 639.8L1559.9 640.0" stroke="#f00" stroke-width="5.50"/>
<path d="M1159.9 902.9L1160.2 902.6L1161.3 901.6L1162.4 900.6L1163.5 899.6L1164.5 898.6L1165.6 897.6L1166.7 896.6L1167.7 895.6L1168.8 894.6L1169.8 893.6L1170.9 892.5L1172.0 891.5L1172.6 890.9M1188.1 875.0L1188.4 874.7L1189.4 873.6L1190.4 872.5L1191.4 871.4L1192.4 870.4L1193.4 869.3L1194.4 868.2L1195.4 867.1L1196.4 866.0L1197.4 864.9L1198.4 863.8L1199.4 862.7L1199.9 862.1M1214.5 845.3L1214.9 844.9L1215.8 843.7L1216.8 842.6L1217.7 841.5L1218.7 840.3L1219.6 839.2L1220.6 838.1L1221.5 836.9L1222.4 835.8L1223.4 834.7L1224.3 833.5L1225.3 832.4L1225.7 831.8M1298.3 740.9L1299.0 740.0L1300.0 738.9L1300.9 737.7L1301.9 736.6L1302.9 735.4L1303.8 734.3L1304.8 733.2L1305.8 732.0L1306.8 730.9L1307.7 729.8L1308.7 728.6L1309.7 727.5L1310.7 726.4L1311.6 725.2L1312.4 724.4M1330.9 704.0L1331.7 703.2L1332.7 702.1L1333.7 701.0L1334.8 699.9L1335.8 698.9L1336.8 697.8L1337.9 696.7L1338.9 695.7L1340.0 694.6L1341.0 693.5L1342.1 692.5L1343.1 691.4L1344.2 690.4L1345.2 689.3L1346.0 688.5M1365.8 670.0L1365.8 670.0L1366.9 669.0L1368.0 668.0L1369.2 667.0L1370.3 666.1L1371.4 665.1L1372.5 664.1L1373.7 663.2L1374.8 662.2L1376.0 661.2L1377.1 660.3L1378.2 659.3L1379.4 658.4L1380.6 657.5L1381.7 656.5L1381.8 656.5M1596.2 758.4L1596.9 759.2L1597.9 760.4L1598.8 761.5L1599.8 762.6L1600.8 763.7L1601.9 764.8L1602.9 765.8L1604.0 766.9L1605.0 767.9L1606.1 768.9L1607.2 770.0L1608.4 770.9L1609.5 771.9L1610.7 772.9L1611.8 773.8L1613.0 774.8L1613.1 774.8" stroke="#f00" stroke-width="5.75"/>
<path d="M182.8 1036.5h4v4h-4zM221.2 1036.5h4v4h-4zM261.0 1036.4h4v4h-4zM300.9 1036.5h4v4h-4zM340.6 1036.5h4v4h-4zM380.4 1036.5h4v4h-4zM420.1 1036.5h4v4h-4zM459.8 1036.5h4v4h-4zM499.4 1036.5h4v4h-4zM539.1 1036.5h4v4h-4zM579.2 1036.3h4v4h-4zM618.8 1035.4h4v4h-4zM658.5 1034.2h4v4h-4zM698.1 1032.4h4v4h-4zM737.7 1030.1h4v4h-4zM777.4 1027.3h4v4h-4zM817.0 1023.7h4v4h-4zM856.6 1019.4h4v4h-4zM896.0 1013.8h4v4h-4zM935.0 1006.5h4v4h-4zM973.6 997.1h4v4h-4zM1011.5 985.4h4v4h-4zM1048.8 971.0h4v4h-4zM1084.3 953.6h4v4h-4zM1118.1 932.7h4v4h-4zM1149.5 908.4h4v4h-4zM1178.3 881.1h4v4h-4zM1205.2 851.8h4v4h-4zM1230.7 821.2h4v4h-4zM1255.6 789.3h4v4h-4zM1287.5 749.5h4v4h-4zM1319.6 712.1h4v4h-4zM1353.9 677.0h4v4h-4zM1390.3 646.3h4v4h-4zM1426.6 622.0h4v4h-4zM1462.3 604.8h4v4h-4zM1501.5 597.9h4v4h-4zM1538.3 609.6h4v4h-4zM1562.2 651.0h4v4h-4zM1571.7 699.2h4v4h-4zM1585.8 744.0h4v4h-4zM1623.6 781.2h4v4h-4z" fill="#f00" stroke="none"/>
<path d="M195.0 1038.2L196.0 1038.2L197.5 1038.2L199.0 1038.2L200.5 1038.1L202.0 1038.1L203.5 1038.1L205.0 1038.0L206.5 1038.0L208.0 1038.0L209.5 1038.0L211.0 1037.9L212.5 1037.9L212.5 1037.9M234.8 1037.6L235.0 1037.6L236.5 1037.6L238.0 1037.5L239.5 1037.5L241.0 1037.5L242.5 1037.5L244.0 1037.5L245.5 1037.5L247.0 1037.5L248.5 1037.4L250.0 1037.4L251.5 1037.4L252.3 1037.4M274.5 1037.3L275.4 1037.2L276.9 1037.2L278.4 1037.2L279.9 1037.2L281.4 1037.2L282.9 1037.2L284.4 1037.2L285.9 1037.2L287.4 1037.2L288.9 1037.2L290.4 1037.2L291.9 1037.2L292.0 1037.2M314.3 1037.2L314.4 1037.2L315.9 1037.2L317.4 1037.2L318.9 1037.2L320.4 1037.2L321.9 1037.2L323.4 1037.2L324.9 1037.2L326.4 1037.2L327.9 1037.2L329.4 1037.2L330.9 1037.2L331.8 1037.2M354.0 1037.2L354.9 1037.2L356.4 1037.2L357.9 1037.3L359.4 1037.3L360.9 1037.3L362.4 1037.3L363.9 1037.3L365.4 1037.3L366.9 1037.3L368.4 1037.3L369.9 1037.3L371.4 1037.3L371.5 1037.3M393.8 1037.4L393.9 1037.4L395.4 1037.4L396.9 1037.4L398.4 1037.4L399.9 1037.4L401.4 1037.4L402.9 1037.4L404.4 1037.4L405.9 1037.4L407.4 1037.4L408.9 1037.5L410.4 1037.5L411.3 1037.5M433.5 1037.5L434.4 1037.5L435.9 1037.6L437.4 1037.6L438.9 1037.6L440.4 1037.6L441.9 1037.6L443.4 1037.6L444.9 1037.6L446.4 1037.6L447.9 1037.6L449.4 1037.6L450.9 1037.6L451.0 1037.6M473.3 1037.6L473.4 1037.6L474.9 1037.6L476.4 1037.6L477.9 1037.6L479.4 1037.6L480.9 1037.6L482.4 1037.6L483.9 1037.6L485.4 1037.6L486.9 1037.6L488.4 1037.6L489.9 1037.6L490.8 1037.6M513.0 1037.5L513.8 1037.5L515.3 1037.5L516.8 1037.5L518.3 1037.5L519.8 1037.5L521.3 1037.5L522.8 1037.5L524.3 1037.4L525.8 1037.4L527.3 1037.4L528.8 1037.4L530.3 1037.4L530.5 1037.4M552.8 1037.2L552.8 1037.2L554.3 1037.1L555.8 1037.1L557.3 1037.1L558.8 1037.1L560.3 1037.1L561.8 1037.0L563.3 1037.0L564.8 1037.0L566.3 1037.0L567.8 1036.9L569.3 1036.9L570.3 1036.9M592.5 1036.5L593.3 1036.5L594.8 1036.4L596.3 1036.4L597.8 1036.4L599.3 1036.3L600.8 1036.3L602.3 1036.3L603.8 1036.2L605.3 1036.2L606.8 1036.1L608.3 1036.1L609.8 1036.1L610.0 1036.1" stroke="#00f" stroke-width="4.00"/>
<path d="M632.2 1035.4L632.2 1035.4L633.7 1035.3L635.2 1035.3L636.7 1035.2L638.2 1035.2L639.7 1035.1L641.2 1035.1L642.7 1035.0L644.2 1035.0L645.7 1034.9L647.2 1034.8L648.7 1034.8L649.7 1034.7M672.0 1033.8L672.7 1033.8L674.2 1033.7L675.7 1033.6L677.2 1033.5L678.7 1033.5L680.2 1033.4L681.7 1033.3L683.2 1033.2L684.7 1033.2L686.2 1033.1L687.6 1033.0L689.1 1032.9L689.4 1032.9M711.6 1031.6L713.1 1031.5L714.6 1031.4L716.1 1031.3L717.6 1031.2L719.1 1031.1L720.6 1031.0L722.1 1030.9L723.6 1030.8L725.1 1030.7L726.6 1030.6L728.1 1030.5L729.1 1030.5M751.3 1028.8L752.0 1028.7L753.5 1028.6L755.0 1028.5L756.5 1028.4L758.0 1028.2L759.5 1028.1L761.0 1028.0L762.5 1027.9L764.0 1027.7L765.5 1027.6L767.0 1027.5L768.5 1027.3L768.7 1027.3M1486.0 570.3L1487.2 570.2L1488.7 570.0L1490.2 569.9L1491.6 569.8L1493.1 569.7L1494.6 569.7L1496.0 569.7L1497.5 569.7L1499.0 569.7L1500.3 569.7" stroke="#00f" stroke-width="4.25"/>
<path d="M790.9 1025.2L790.9 1025.2L792.4 1025.0L793.9 1024.9L795.4 1024.7L796.9 1024.6L798.4 1024.4L799.8 1024.2L801.3 1024.1L802.8 1023.9L804.3 1023.7L805.8 1023.6L807.3 1023.4L808.3 1023.3M830.3 1020.5L831.1 1020.4L832.6 1020.2L834.1 1020.0L835.6 1019.8L837.1 1019.6L838.5 1019.4L840.0 1019.2L841.5 1018.9L843.0 1018.7L844.5 1018.5L846.0 1018.3L847.4 1018.1L847.7 1018.0" stroke="#00f" stroke-width="4.50"/>
<path d="M869.6 1014.4L871.1 1014.2L872.6 1013.9L874.0 1013.6L875.5 1013.4L877.0 1013.1L878.4 1012.8L879.9 1012.5L881.4 1012.2L882.9 1012.0L884.3 1011.7L885.8 1011.4L886.8 1011.2M908.6 1006.5L909.2 1006.4L910.6 1006.0L912.1 1005.7L913.5 1005.3L915.0 1005.0L916.5 1004.6L917.9 1004.3L919.4 1003.9L920.8 1003.6L922.3 1003.2L923.7 1002.8L925.2 1002.5L925.6 1002.4M1567.0 640.2L1567.3 641.6L1567.6 643.1L1567.9 644.6L1568.2 646.1L1568.4 647.6L1568.7 649.1L1569.0 650.6L1569.2 652.1L1569.5 653.6L1569.8 655.1L1570.0 656.6L1570.3 658.1L1570.5 659.6L1570.8 661.1L1570.8 661.3M1575.3 687.1L1575.5 688.2L1575.8 689.6L1576.1 691.1L1576.4 692.6L1576.8 694.1L1577.1 695.5L1577.5 697.0L1577.9 698.4L1578.2 699.9L1578.6 701.3L1579.1 702.8L1579.5 704.2L1579.9 705.6L1580.1 706.4" stroke="#00f" stroke-width="4.75"/>
<path d="M947.0 996.4L948.2 996.1L949.6 995.7L951.1 995.2L952.5 994.8L953.9 994.3L955.4 993.9L956.8 993.5L958.2 993.0L959.6 992.5L961.1 992.1L962.5 991.6L963.7 991.2M1454.2 578.5L1455.4 578.1L1456.9 577.5L1458.3 577.0L1459.7 576.5L1461.1 576.0L1462.6 575.5L1464.0 575.1L1465.4 574.6L1466.9 574.2L1468.0 573.9M1630.3 767.0L1631.6 767.5L1633.0 768.1L1634.4 768.7L1635.8 769.2L1637.2 769.8L1638.6 770.3L1640.0 770.7L1641.5 771.2L1643.0 771.6L1644.4 772.0L1645.9 772.3L1647.4 772.7L1648.9 773.0L1650.5 773.3L1652.0 773.5" stroke="#00f" stroke-width="5.00"/>
<path d="M984.7 983.9L985.1 983.7L986.6 983.2L988.0 982.6L989.4 982.1L990.8 981.6L992.2 981.0L993.6 980.5L995.0 979.9L996.4 979.4L997.8 978.8L999.2 978.2L1000.5 977.7L1001.0 977.5M1021.5 968.8L1022.6 968.3L1024.0 967.7L1025.3 967.1L1026.7 966.4L1028.1 965.8L1029.4 965.2L1030.8 964.5L1032.1 963.9L1033.5 963.2L1034.8 962.6L1036.2 961.9L1037.3 961.3M1519.5 572.9L1520.7 573.3L1522.1 573.7L1523.5 574.2L1524.8 574.8L1526.1 575.3L1527.4 575.9L1528.7 576.6L1530.0 577.2L1531.2 577.9L1532.5 578.7L1533.7 579.4L1534.4 579.9" stroke="#00f" stroke-width="5.25"/>
<path d="M1057.0 951.0L1057.4 950.8L1058.7 950.0L1060.0 949.3L1061.3 948.5L1062.5 947.8L1063.8 947.0L1065.1 946.3L1066.4 945.5L1067.7 944.8L1069.0 944.0L1070.2 943.2L1071.5 942.4L1072.1 942.1M1090.7 929.9L1091.4 929.4L1092.6 928.5L1093.8 927.6L1095.0 926.8L1096.2 925.9L1097.4 925.0L1098.6 924.2L1099.8 923.3L1101.0 922.4L1102.2 921.5L1103.4 920.6L1104.5 919.7L1104.8 919.5M1202.8 816.8L1203.6 815.8L1204.6 814.7L1205.5 813.5L1206.4 812.4L1207.3 811.2L1208.2 810.1L1209.1 808.9L1210.0 807.7L1210.9 806.6L1211.9 805.4L1212.8 804.3L1213.7 803.1L1214.5 802.1M1392.0 613.4L1393.1 612.6L1394.4 611.7L1395.6 610.9L1396.8 610.0L1398.1 609.2L1399.3 608.3L1400.6 607.5L1401.8 606.7L1403.1 605.8L1404.3 605.0L1405.6 604.2L1405.7 604.1M1423.1 593.6L1423.8 593.2L1425.1 592.5L1426.4 591.7L1427.8 591.0L1429.1 590.3L1430.5 589.5L1431.8 588.8L1433.2 588.1L1434.6 587.4L1435.9 586.7L1436.7 586.3M1550.4 596.8L1550.5 597.0L1551.3 598.2L1552.1 599.5L1552.9 600.7L1553.6 602.0L1554.3 603.3L1555.0 604.6L1555.7 606.0L1556.4 607.3L1557.0 608.7L1557.6 610.0L1558.2 611.4L1558.8 612.8L1559.4 614.2L1559.6 614.8M1591.4 731.4L1592.2 732.6L1593.0 733.9L1593.8 735.1L1594.7 736.3L1595.5 737.6L1596.4 738.8L1597.3 739.9L1598.2 741.1L1599.1 742.3L1600.1 743.4L1601.0 744.5L1602.0 745.7L1603.0 746.7L1604.0 747.8L1605.1 748.9L1606.0 749.8" stroke="#00f" stroke-width="5.50"/>
<path d="M1122.0 905.4L1122.8 904.6L1123.9 903.6L1125.0 902.7L1126.1 901.7L1127.2 900.7L1128.3 899.7L1129.4 898.7L1130.5 897.7L1131.6 896.7L1132.7 895.7L1133.7 894.7L1134.8 893.6L1134.9 893.6M1150.6 877.9L1151.6 876.9L1152.6 875.8L1153.6 874.7L1154.6 873.7L1155.7 872.6L1156.7 871.5L1157.7 870.4L1158.7 869.3L1159.7 868.2L1160.7 867.1L1161.7 866.0L1162.6 865.1M1177.2 848.3L1177.4 848.1L1178.3 847.0L1179.3 845.8L1180.2 844.7L1181.2 843.5L1182.2 842.4L1183.1 841.2L1184.1 840.1L1185.0 838.9L1185.9 837.8L1186.9 836.6L1187.8 835.5L1188.4 834.8M1229.1 783.9L1229.9 782.9L1230.8 781.8L1231.7 780.7L1232.6 779.6L1233.5 778.6L1234.4 777.5L1235.3 776.4L1236.2 775.3L1237.1 774.2L1238.0 773.1L1238.9 772.1L1239.8 771.0L1240.6 770.0M1255.0 752.1L1255.9 751.0L1256.9 749.8L1257.8 748.7L1258.8 747.5L1259.7 746.3L1260.7 745.2L1261.6 744.0L1262.6 742.9L1263.5 741.7L1264.5 740.5L1265.4 739.4L1266.4 738.2L1266.6 737.9M1281.3 720.3L1281.7 719.8L1282.7 718.6L1283.7 717.5L1284.6 716.4L1285.6 715.2L1286.6 714.1L1287.6 712.9L1288.5 711.8L1289.5 710.7L1290.5 709.5L1291.5 708.4L1292.4 707.3L1292.9 706.8M1307.9 689.9L1308.3 689.4L1309.3 688.3L1310.3 687.2L1311.3 686.1L1312.3 685.0L1313.4 683.9L1314.4 682.8L1315.4 681.7L1316.4 680.6L1317.4 679.5L1318.5 678.5L1319.5 677.4L1319.9 676.9M1335.1 661.5L1335.1 661.5L1336.2 660.4L1337.3 659.4L1338.3 658.3L1339.4 657.3L1340.5 656.3L1341.5 655.3L1342.6 654.2L1343.7 653.2L1344.8 652.2L1345.9 651.2L1347.0 650.2L1347.0 650.2M1362.5 636.3L1363.7 635.4L1364.8 634.4L1365.9 633.5L1367.1 632.5L1368.2 631.6L1369.4 630.6L1370.5 629.7L1371.7 628.8L1372.8 627.8L1374.0 626.9L1375.2 626.0L1375.2 626.0" stroke="#00f" stroke-width="5.75"/>
<path d="M183.1 1036.5h4v4h-4zM221.7 1035.7h4v4h-4zM261.4 1035.3h4v4h-4zM301.2 1035.2h4v4h-4zM340.9 1035.2h4v4h-4zM380.6 1035.3h4v4h-4zM420.4 1035.5h4v4h-4zM460.1 1035.6h4v4h-4zM499.9 1035.6h4v4h-4zM539.6 1035.3h4v4h-4zM579.3 1034.7h4v4h-4zM619.1 1033.7h4v4h-4zM658.8 1032.3h4v4h-4zM698.5 1030.3h4v4h-4zM738.1 1027.7h4v4h-4zM777.7 1024.3h4v4h-4zM817.3 1020.0h4v4h-4zM856.6 1014.3h4v4h-4zM895.6 1006.9h4v4h-4zM934.2 997.5h4v4h-4zM972.4 985.6h4v4h-4zM1009.5 971.2h4v4h-4zM1045.4 954.2h4v4h-4zM1079.5 934.1h4v4h-4zM1111.3 910.7h4v4h-4zM1140.8 883.9h4v4h-4zM1168.0 854.7h4v4h-4zM1193.3 824.1h4v4h-4zM1219.8 790.7h4v4h-4zM1245.7 759.2h4v4h-4zM1272.0 727.0h4v4h-4zM1298.3 696.3h4v4h-4zM1325.7 666.8h4v4h-4zM1352.7 641.2h4v4h-4zM1381.5 617.6h4v4h-4zM1412.6 596.6h4v4h-4zM1443.6 580.1h4v4h-4zM1475.0 569.7h4v4h-4zM1507.3 568.6h4v4h-4zM1540.4 584.8h4v4h-4zM1561.7 625.0h4v4h-4zM1571.0 672.7h4v4h-4zM1582.6 716.3h4v4h-4zM1615.4 757.4h4v4h-4z" fill="#00f" stroke="none"/>
<use href="#c2" stroke-width="4"/>
<use href="#c2" stroke-width="0.8" transform="translate(1.6 1.6)"/>
<use href="#c2" stroke-width="0.8" transform="translate(1.6 -1.6)"/>
<use href="#c2" stroke-width="0.8" transform="translate(-1.6 1.6)"/>
<use href="#c2" stroke-width="0.8" transform="translate(-1.6 -1.6)"/>
<use href="#c3" stroke-width="4"/>
<use href="#c3" stroke-width="0.8" transform="translate(1.6 1.6)"/>
<use href="#c3" stroke-width="0.8" transform="translate(1.6 -1.6)"/>
<use href="#c3" stroke-width="0.8" transform="translate(-1.6 1.6)"/>
<use href="#c3" stroke-width="0.8" transform="translate(-1.6 -1.6)"/>
<path d="M1430.6 379.2L1431.3 379.1L1432.8 378.9L1434.3 378.8L1435.9 378.6L1437.4 378.5L1438.9 378.3L1440.4 378.2L1441.9 378.1L1443.4 378.0L1444.9 377.8L1446.4 377.7L1447.9 377.7L1448.6 377.6" stroke="#000" stroke-width="4.25"/>
<path d="M1471.3 377.6L1472.0 377.6L1473.5 377.7L1475.0 377.9L1476.5 378.0L1478.0 378.1L1479.5 378.3L1480.9 378.5L1482.4 378.7L1483.9 378.9L1485.4 379.1L1486.8 379.3L1488.3 379.6L1488.9 379.7" stroke="#000" stroke-width="4.50"/>
<path d="M811.6 553.6L812.9 553.3L814.4 552.9L815.9 552.6L817.3 552.2L818.8 551.9L820.2 551.5L821.7 551.1L823.2 550.8L824.6 550.4L826.1 550.1L827.5 549.7L828.6 549.5M850.2 544.3L850.9 544.2L852.4 543.8L853.9 543.5L855.3 543.1L856.8 542.8L858.2 542.4L859.7 542.1L861.2 541.8L862.6 541.4L864.1 541.1L865.6 540.7L867.0 540.4L867.3 540.3M888.9 535.3L889.0 535.3L890.4 534.9L891.9 534.6L893.4 534.2L894.8 533.9L896.3 533.6L897.8 533.2L899.2 532.9L900.7 532.5L902.1 532.2L903.6 531.9L905.1 531.6L906.0 531.3M927.7 526.4L928.4 526.2L929.9 525.9L931.3 525.5L932.8 525.2L934.3 524.9L935.7 524.5L937.2 524.2L938.6 523.8L940.1 523.5L941.5 523.2L943.0 522.8L944.5 522.5L944.7 522.4M966.4 517.2L967.7 516.9L969.2 516.5L970.6 516.2L972.1 515.8L973.5 515.4L975.0 515.1L976.4 514.7L977.9 514.4L979.3 514.0L980.8 513.6L982.2 513.3L983.4 513.0M1004.9 507.5L1005.4 507.4L1006.8 507.1L1008.2 506.7L1009.7 506.4L1011.1 506.0L1012.6 505.7L1014.0 505.3L1015.5 504.9L1016.9 504.6L1018.3 504.2L1019.8 503.8L1021.2 503.5L1021.9 503.3M1351.5 394.7L1351.7 394.6L1353.2 394.2L1354.6 393.8L1356.0 393.5L1357.5 393.1L1358.9 392.7L1360.4 392.4L1361.8 392.0L1363.3 391.7L1364.7 391.3L1366.2 391.0L1367.6 390.6L1369.1 390.3L1369.4 390.2M1391.5 385.4L1392.5 385.2L1394.0 384.9L1395.5 384.6L1397.0 384.4L1398.4 384.1L1399.9 383.8L1401.4 383.6L1402.9 383.3L1404.4 383.0L1405.9 382.8L1407.3 382.5L1408.5 382.3M1566.2 462.3L1566.3 462.8L1566.7 464.3L1567.0 465.8L1567.3 467.3L1567.6 468.8L1568.0 470.3L1568.3 471.8L1568.6 473.3L1568.9 474.8L1569.2 476.3L1569.5 477.8L1569.8 479.3L1570.1 480.8L1570.4 482.3L1570.5 482.7" stroke="#000" stroke-width="4.75"/>
<path d="M697.0 586.5L697.6 586.4L699.0 585.9L700.4 585.4L701.9 584.9L703.3 584.5L704.7 584.0L706.1 583.5L707.5 583.0L709.0 582.6L710.4 582.1L711.8 581.7L713.2 581.2L713.6 581.1M734.9 574.4L736.2 574.1L737.6 573.6L739.0 573.2L740.5 572.8L741.9 572.4L743.3 571.9L744.8 571.5L746.2 571.1L747.7 570.7L749.1 570.2L750.5 569.8L751.7 569.5M773.1 563.5L773.7 563.4L775.1 563.0L776.6 562.6L778.0 562.2L779.5 561.8L780.9 561.5L782.4 561.1L783.8 560.7L785.3 560.3L786.7 559.9L788.2 559.6L789.6 559.2L790.0 559.1M1043.4 497.7L1044.2 497.5L1045.6 497.1L1047.1 496.7L1048.5 496.3L1049.9 495.9L1051.4 495.5L1052.8 495.1L1054.2 494.8L1055.7 494.4L1057.1 494.0L1058.5 493.6L1060.0 493.2L1060.3 493.1M1081.8 487.1L1082.8 486.9L1084.2 486.5L1085.6 486.1L1087.0 485.7L1088.5 485.4L1089.9 485.0L1091.3 484.6L1092.7 484.2L1094.1 483.8L1095.6 483.4L1097.0 483.0L1098.4 482.7L1098.7 482.6M1234.5 432.6L1235.1 432.3L1236.5 431.8L1238.0 431.3L1239.4 430.8L1240.8 430.3L1242.2 429.8L1243.6 429.3L1245.0 428.8L1246.4 428.3L1247.9 427.8L1249.3 427.3L1250.7 426.8L1251.3 426.6M1273.1 419.0L1273.3 418.9L1274.7 418.4L1276.1 417.9L1277.5 417.4L1279.0 416.9L1280.4 416.4L1281.8 416.0L1283.2 415.5L1284.6 415.0L1286.0 414.5L1287.5 414.1L1288.9 413.6L1290.3 413.1L1290.5 413.0M1312.4 406.0L1313.0 405.8L1314.4 405.3L1315.9 404.9L1317.3 404.4L1318.7 404.0L1320.1 403.6L1321.6 403.1L1323.0 402.7L1324.4 402.3L1325.9 401.9L1327.3 401.4L1328.7 401.0L1329.3 400.8M1576.1 509.2L1576.4 510.4L1576.8 511.9L1577.2 513.3L1577.5 514.8L1577.9 516.2L1578.3 517.7L1578.7 519.1L1579.2 520.5L1579.6 522.0L1580.0 523.4L1580.5 524.8L1580.9 526.2L1581.4 527.6L1581.9 529.0L1582.2 529.9" stroke="#000" stroke-width="5.00"/>
<path d="M586.3 630.8L586.5 630.7L587.9 630.1L589.2 629.4L590.6 628.8L591.9 628.2L593.3 627.6L594.6 626.9L596.0 626.3L597.4 625.7L598.7 625.1L600.1 624.5L601.4 623.9L602.3 623.5M622.7 614.6L623.4 614.3L624.8 613.8L626.1 613.2L627.5 612.6L628.9 612.0L630.3 611.5L631.7 610.9L633.1 610.3L634.4 609.8L635.8 609.2L637.2 608.7L638.6 608.1L638.9 608.0M659.6 599.9L660.9 599.4L662.3 598.9L663.7 598.4L665.1 597.9L666.5 597.3L667.9 596.8L669.3 596.3L670.7 595.8L672.1 595.3L673.6 594.8L675.0 594.3L676.0 593.9M1119.6 475.1L1119.8 475.1L1121.2 474.5L1122.6 474.0L1124.0 473.5L1125.4 473.0L1126.8 472.5L1128.2 471.9L1129.6 471.4L1131.0 470.9L1132.4 470.4L1133.8 469.9L1135.2 469.3L1136.0 469.0M1157.4 461.0L1157.7 460.9L1159.1 460.4L1160.5 459.9L1161.9 459.4L1163.3 458.8L1164.7 458.3L1166.1 457.8L1167.5 457.3L1168.9 456.7L1170.3 456.2L1171.7 455.7L1173.1 455.2L1174.5 454.6L1174.8 454.6M1196.4 446.5L1197.0 446.3L1198.5 445.8L1199.9 445.2L1201.3 444.7L1202.7 444.2L1204.1 443.7L1205.5 443.2L1206.9 442.6L1208.3 442.1L1209.7 441.6L1211.1 441.1L1212.6 440.6L1213.2 440.3M1549.2 416.2L1549.4 416.5L1550.1 417.7L1550.9 419.0L1551.6 420.3L1552.3 421.5L1553.0 422.8L1553.6 424.2L1554.3 425.5L1554.9 426.8L1555.5 428.2L1556.1 429.5L1556.7 430.9L1557.2 432.3L1557.8 433.7L1558.3 435.1L1558.7 436.1M1637.2 593.4L1637.9 593.8L1639.2 594.4L1640.6 595.1L1642.0 595.7L1643.4 596.3L1644.8 596.9L1646.2 597.4L1647.7 598.0L1649.1 598.5L1650.6 599.0L1652.0 599.5" stroke="#000" stroke-width="5.25"/>
<path d="M185.0 887.5L185.3 887.2L186.6 886.5L187.8 885.7L189.1 884.9L190.4 884.1L191.6 883.4L192.9 882.6L194.2 881.8L195.5 881.0L196.7 880.3L198.0 879.5L199.3 878.7L199.9 878.3M218.7 866.5L219.5 866.0L220.7 865.1L222.0 864.3L223.2 863.5L224.5 862.7L225.7 861.9L227.0 861.1L228.2 860.3L229.5 859.5L230.7 858.6L232.0 857.8L233.2 857.0L233.4 856.9M251.9 844.6L251.9 844.6L253.2 843.8L254.4 842.9L255.7 842.1L256.9 841.2L258.2 840.4L259.4 839.6L260.6 838.7L261.9 837.9L263.1 837.0L264.4 836.2L265.6 835.3L266.4 834.8M284.7 822.2L285.4 821.7L286.6 820.9L287.9 820.0L289.1 819.2L290.3 818.3L291.6 817.5L292.8 816.6L294.0 815.7L295.3 814.9L296.5 814.0L297.7 813.2L299.0 812.3L299.1 812.2M317.3 799.4L317.4 799.3L318.6 798.5L319.9 797.6L321.1 796.7L322.3 795.9L323.6 795.0L324.8 794.1L326.0 793.3L327.3 792.4L328.5 791.5L329.7 790.7L330.9 789.8L331.6 789.3M349.8 776.5L350.6 775.9L351.9 775.0L353.1 774.2L354.3 773.3L355.5 772.4L356.8 771.6L358.0 770.7L359.2 769.8L360.5 769.0L361.7 768.1L362.9 767.2L364.1 766.4M382.3 753.6L382.7 753.4L383.9 752.5L385.1 751.7L386.4 750.8L387.6 749.9L388.8 749.1L390.1 748.2L391.3 747.4L392.5 746.5L393.8 745.7L395.0 744.8L396.3 743.9L396.7 743.7M415.0 731.1L416.1 730.3L417.3 729.5L418.6 728.7L419.8 727.8L421.1 727.0L422.3 726.1L423.6 725.3L424.8 724.4L426.1 723.6L427.3 722.8L428.6 721.9L429.5 721.3M448.1 709.0L448.6 708.7L449.9 707.9L451.1 707.1L452.4 706.2L453.6 705.4L454.9 704.6L456.2 703.8L457.4 703.0L458.7 702.2L460.0 701.4L461.2 700.6L462.5 699.7L462.8 699.5M481.6 687.7L482.8 687.0L484.1 686.2L485.4 685.5L486.6 684.7L487.9 683.9L489.2 683.1L490.5 682.3L491.8 681.6L493.0 680.8L494.3 680.0L495.6 679.3L496.6 678.6M515.8 667.4L516.3 667.2L517.6 666.4L518.9 665.7L520.2 664.9L521.5 664.2L522.8 663.5L524.1 662.8L525.4 662.0L526.7 661.3L528.0 660.6L529.3 659.8L530.6 659.1L531.1 658.9M550.7 648.4L551.7 647.9L553.0 647.2L554.3 646.5L555.7 645.8L557.0 645.1L558.3 644.4L559.6 643.8L561.0 643.1L562.3 642.4L563.6 641.8L565.0 641.1L566.3 640.4M1512.4 386.5L1512.7 386.6L1514.1 387.1L1515.4 387.7L1516.8 388.4L1518.1 389.0L1519.4 389.7L1520.8 390.3L1522.1 391.0L1523.4 391.8L1524.6 392.5L1525.9 393.3L1527.1 394.1L1528.4 394.9L1529.6 395.7L1530.6 396.4" stroke="#000" stroke-width="5.50"/>
<path d="M1595.4 556.3L1595.7 556.7L1596.5 558.0L1597.4 559.2L1598.3 560.4L1599.1 561.6L1600.0 562.7L1601.0 563.9L1601.9 565.1L1602.8 566.2L1603.8 567.3L1604.8 568.5L1605.8 569.6L1606.8 570.7L1607.8 571.7L1608.8 572.8L1609.9 573.9L1610.9 574.9L1611.4 575.3" stroke="#000" stroke-width="5.75"/>
<path d="M207.3 870.4h4v4h-4zM240.6 848.8h4v4h-4zM273.5 826.5h4v4h-4zM306.2 803.8h4v4h-4zM338.7 780.9h4v4h-4zM371.3 757.9h4v4h-4zM403.7 735.5h4v4h-4zM436.7 713.2h4v4h-4zM470.1 691.7h4v4h-4zM504.0 671.1h4v4h-4zM539.0 651.5h4v4h-4zM574.3 633.5h4v4h-4zM610.4 617.0h4v4h-4zM647.1 601.9h4v4h-4zM684.4 588.2h4v4h-4zM722.1 575.8h4v4h-4zM760.2 564.5h4v4h-4zM798.7 554.4h4v4h-4zM837.3 544.9h4v4h-4zM876.1 535.8h4v4h-4zM914.8 526.9h4v4h-4zM953.5 517.8h4v4h-4zM991.9 508.3h4v4h-4zM1030.7 498.5h4v4h-4zM1069.2 488.0h4v4h-4zM1107.3 476.9h4v4h-4zM1144.5 463.1h4v4h-4zM1183.8 448.5h4v4h-4zM1221.8 434.4h4v4h-4zM1260.0 420.8h4v4h-4zM1299.6 407.4h4v4h-4zM1338.2 395.7h4v4h-4zM1378.8 385.6h4v4h-4zM1417.3 378.7h4v4h-4zM1458.0 375.3h4v4h-4zM1498.0 380.2h4v4h-4zM1538.6 403.1h4v4h-4zM1561.0 447.5h4v4h-4zM1571.1 493.7h4v4h-4zM1585.6 540.7h4v4h-4zM1621.6 583.3h4v4h-4z" fill="#000" stroke="none"/>
<path d="M184.5 1037.0L184.5 1037.0L185.5 1037.0L187.0 1037.0L188.6 1036.9L189.3 1036.9M211.6 1036.6L212.8 1036.6L214.3 1036.6L215.8 1036.6L217.3 1036.5L218.8 1036.5L220.3 1036.5L221.8 1036.5L223.3 1036.5L224.8 1036.4L226.3 1036.4L227.8 1036.4L229.1 1036.4M251.3 1036.1L251.9 1036.1L253.4 1036.0L254.9 1036.0L256.4 1036.0L257.9 1036.0L259.4 1035.9L260.9 1035.9L262.4 1035.9L263.9 1035.9L265.4 1035.8L266.9 1035.8L268.4 1035.8L268.8 1035.8M291.1 1035.4L292.3 1035.3L293.8 1035.3L295.3 1035.3L296.8 1035.2L298.3 1035.2L299.8 1035.2L301.2 1035.1L302.7 1035.1L304.2 1035.1L305.7 1035.0L307.2 1035.0L308.6 1035.0M330.8 1034.4L331.1 1034.4L332.5 1034.3L334.0 1034.3L335.5 1034.2L337.0 1034.2L338.5 1034.1L340.0 1034.1L341.5 1034.0L343.0 1034.0L344.4 1033.9L345.9 1033.9L347.4 1033.8L348.3 1033.8" stroke="#008b00" stroke-width="4.00"/>
<path d="M370.5 1033.0L371.2 1032.9L372.7 1032.9L374.2 1032.8L375.7 1032.8L377.2 1032.7L378.7 1032.6L380.1 1032.6L381.6 1032.5L383.1 1032.4L384.6 1032.4L386.1 1032.3L387.6 1032.2L388.0 1032.2M410.2 1031.0L411.4 1031.0L412.9 1030.9L414.3 1030.8L415.8 1030.7L417.3 1030.6L418.8 1030.5L420.3 1030.4L421.8 1030.3L423.3 1030.3L424.8 1030.2L426.2 1030.1L427.7 1030.0M449.9 1028.4L450.1 1028.4L451.6 1028.3L453.1 1028.2L454.5 1028.0L456.0 1027.9L457.5 1027.8L459.0 1027.7L460.5 1027.6L462.0 1027.4L463.5 1027.3L465.0 1027.2L466.5 1027.1L467.3 1027.0M1414.8 333.4L1414.8 333.4L1416.3 333.2L1417.8 333.1L1419.3 332.9L1420.8 332.8L1422.3 332.6L1423.8 332.5L1425.3 332.4L1426.8 332.2L1428.3 332.1L1429.8 332.0L1431.3 331.9M1452.3 331.4L1452.3 331.4L1453.8 331.4L1455.3 331.4L1456.8 331.5L1458.3 331.6L1459.8 331.6L1461.2 331.7L1462.7 331.8L1464.2 331.9L1465.7 332.1L1467.2 332.2L1468.6 332.4" stroke="#008b00" stroke-width="4.25"/>
<path d="M489.5 1025.0L490.4 1024.9L491.9 1024.7L493.4 1024.6L494.9 1024.4L496.4 1024.3L497.9 1024.1L499.4 1024.0L500.9 1023.8L502.4 1023.7L503.9 1023.5L505.4 1023.3L506.9 1023.2L506.9 1023.2M529.0 1020.6L529.4 1020.6L530.9 1020.4L532.4 1020.2L533.9 1020.0L535.4 1019.8L536.9 1019.6L538.4 1019.4L539.9 1019.2L541.4 1019.1L542.9 1018.9L544.4 1018.7L546.0 1018.4L546.4 1018.4M568.4 1015.2L568.6 1015.2L570.1 1014.9L571.6 1014.7L573.1 1014.5L574.6 1014.2L576.1 1014.0L577.6 1013.7L579.1 1013.5L580.6 1013.2L582.1 1013.0L583.6 1012.7L585.1 1012.5L585.6 1012.4M1378.5 338.8L1378.9 338.7L1380.4 338.4L1381.9 338.2L1383.4 337.9L1384.9 337.7L1386.4 337.4L1387.9 337.2L1389.4 336.9L1390.8 336.7L1392.3 336.4L1393.8 336.2L1394.3 336.2M1569.3 434.4L1569.3 434.4L1569.6 435.9L1569.9 437.5L1570.1 439.0L1570.4 440.5L1570.7 442.0L1570.9 443.5L1571.2 445.1L1571.4 446.6L1571.7 448.1L1572.0 449.6L1572.2 451.2L1572.5 452.7L1572.7 454.2L1573.0 455.7L1573.0 455.7" stroke="#008b00" stroke-width="4.50"/>
<path d="M607.5 1008.3L607.6 1008.3L609.1 1008.0L610.5 1007.7L612.0 1007.4L613.5 1007.1L615.0 1006.8L616.5 1006.5L618.0 1006.2L619.5 1005.9L621.0 1005.6L622.4 1005.2L623.9 1004.9L624.6 1004.8M1342.1 346.5L1343.5 346.1L1345.0 345.8L1346.5 345.4L1347.9 345.1L1349.4 344.7L1350.9 344.4L1352.3 344.1L1353.8 343.7L1355.3 343.4L1356.7 343.1L1358.2 342.8L1358.2 342.8" stroke="#008b00" stroke-width="4.75"/>
<path d="M646.3 999.6L647.5 999.3L649.0 998.9L650.4 998.5L651.9 998.1L653.4 997.7L654.8 997.4L656.3 997.0L657.7 996.6L659.2 996.2L660.6 995.7L662.1 995.3L663.2 995.0M684.4 988.5L685.1 988.3L686.5 987.8L687.9 987.3L689.3 986.8L690.7 986.4L692.2 985.9L693.6 985.4L695.0 984.9L696.4 984.4L697.8 983.9L699.2 983.4L700.6 982.9L701.0 982.7M1307.0 356.4L1307.4 356.3L1308.8 355.8L1310.3 355.4L1311.7 354.9L1313.1 354.5L1314.6 354.0L1316.0 353.6L1317.4 353.2L1318.9 352.8L1320.3 352.3L1321.8 351.9L1322.2 351.8M1489.6 336.0L1490.6 336.3L1492.1 336.7L1493.5 337.1L1494.9 337.5L1496.4 337.9L1497.8 338.4L1499.2 338.8L1500.7 339.3L1502.1 339.8L1503.5 340.3L1504.9 340.8L1505.8 341.2M1578.8 482.6L1579.2 483.9L1579.6 485.4L1580.0 486.8L1580.5 488.2L1580.9 489.7L1581.4 491.1L1581.9 492.5L1582.4 493.9L1582.9 495.2L1583.5 496.6L1584.0 498.0L1584.6 499.3L1585.2 500.7L1585.8 502.0L1586.1 502.8" stroke="#008b00" stroke-width="5.00"/>
<path d="M721.7 974.5L722.7 974.1L724.1 973.5L725.4 972.9L726.8 972.3L728.1 971.7L729.5 971.1L730.8 970.5L732.2 969.9L733.5 969.2L734.9 968.6L736.2 968.0L737.6 967.4L737.6 967.3M959.6 718.4L959.8 718.0L960.5 716.7L961.1 715.3L961.8 714.0L962.5 712.7L963.1 711.3L963.8 710.0L964.5 708.6L965.2 707.3L965.8 705.9L966.5 704.6L967.2 703.2L967.4 702.7M977.3 682.8L977.8 681.7L978.5 680.3L979.2 679.0L979.8 677.6L980.5 676.3L981.2 674.9L981.9 673.6L982.5 672.2L983.2 670.9L983.9 669.5L984.5 668.2L985.1 667.1M1235.7 385.0L1236.7 384.5L1238.0 383.8L1239.4 383.2L1240.7 382.5L1242.1 381.9L1243.4 381.3L1244.8 380.6L1246.1 380.0L1247.5 379.4L1248.8 378.8L1250.2 378.1L1251.2 377.7M1271.2 369.2L1272.2 368.8L1273.5 368.3L1274.9 367.7L1276.3 367.2L1277.7 366.6L1279.1 366.1L1280.5 365.6L1281.9 365.0L1283.3 364.5L1284.7 364.0L1286.1 363.5L1287.2 363.1M1556.3 388.4L1556.9 389.6L1557.5 391.0L1558.1 392.3L1558.6 393.7L1559.2 395.0L1559.7 396.4L1560.2 397.8L1560.7 399.2L1561.2 400.6L1561.7 402.0L1562.1 403.4L1562.6 404.8L1563.0 406.3L1563.4 407.7L1563.5 408.0M1644.2 557.9L1644.7 558.1L1646.2 558.7L1647.6 559.3L1649.1 559.9L1650.6 560.4L1652.1 561.0" stroke="#008b00" stroke-width="5.25"/>
<path d="M757.4 957.2L758.6 956.6L759.8 955.8L761.1 955.1L762.4 954.4L763.7 953.7L765.0 952.9L766.2 952.2L767.5 951.4L768.8 950.7L770.0 949.9L771.3 949.2L772.5 948.4M791.1 936.1L792.2 935.4L793.4 934.5L794.6 933.6L795.8 932.8L797.0 931.9L798.2 931.0L799.3 930.1L800.5 929.2L801.7 928.3L802.9 927.4L804.0 926.5L805.1 925.7M876.7 853.7L877.6 852.6L878.5 851.5L879.5 850.3L880.4 849.1L881.3 847.9L882.3 846.7L883.2 845.5L884.1 844.3L885.0 843.1L885.9 841.9L886.8 840.7L887.4 839.9M900.4 821.8L900.9 821.1L901.7 819.8L902.6 818.6L903.4 817.3L904.2 816.1L905.1 814.8L905.9 813.6L906.8 812.3L907.6 811.1L908.4 809.8L909.2 808.5L910.1 807.3L910.1 807.2M921.8 788.3L922.0 788.1L922.7 786.8L923.5 785.5L924.3 784.2L925.0 782.9L925.8 781.6L926.5 780.3L927.3 779.0L928.0 777.7L928.8 776.4L929.5 775.1L930.3 773.8L930.6 773.2M941.3 753.7L941.9 752.7L942.6 751.4L943.3 750.1L944.0 748.7L944.7 747.4L945.4 746.1L946.1 744.8L946.8 743.4L947.5 742.1L948.2 740.8L948.9 739.4L949.5 738.2M995.1 647.3L995.4 646.7L996.1 645.3L996.8 644.0L997.5 642.6L998.2 641.3L998.9 640.0L999.6 638.6L1000.3 637.3L1001.0 636.0L1001.7 634.6L1002.4 633.3L1003.1 632.0L1003.2 631.7M1013.8 612.2L1013.8 612.1L1014.6 610.8L1015.3 609.5L1016.0 608.2L1016.8 606.9L1017.5 605.6L1018.3 604.3L1019.0 603.0L1019.7 601.7L1020.5 600.4L1021.2 599.1L1022.0 597.7L1022.4 597.0M1033.8 577.8L1034.3 577.1L1035.1 575.8L1035.8 574.5L1036.6 573.3L1037.4 572.0L1038.2 570.7L1039.0 569.4L1039.8 568.2L1040.6 566.9L1041.4 565.6L1042.2 564.4L1043.0 563.1L1043.1 563.0M1055.4 544.5L1055.4 544.4L1056.3 543.2L1057.1 542.0L1058.0 540.7L1058.8 539.5L1059.7 538.3L1060.5 537.1L1061.4 535.9L1062.3 534.6L1063.1 533.4L1064.0 532.2L1064.9 531.0L1065.5 530.2M1164.0 428.6L1164.2 428.5L1165.4 427.6L1166.6 426.7L1167.8 425.8L1169.0 425.0L1170.2 424.1L1171.5 423.2L1172.7 422.4L1173.9 421.5L1175.1 420.6L1176.3 419.8L1177.6 419.0L1178.8 418.1L1179.0 418.0M1199.0 405.1L1200.1 404.4L1201.4 403.7L1202.6 402.9L1203.9 402.1L1205.2 401.4L1206.5 400.6L1207.8 399.9L1209.1 399.2L1210.4 398.4L1211.7 397.7L1213.0 396.9L1214.3 396.2L1215.4 395.6" stroke="#008b00" stroke-width="5.50"/>
<path d="M822.2 911.4L822.3 911.4L823.4 910.4L824.5 909.4L825.6 908.4L826.7 907.4L827.8 906.4L828.9 905.4L830.0 904.4L831.1 903.4L832.2 902.4L833.3 901.4L834.3 900.3L835.1 899.6M850.7 883.8L851.1 883.4L852.2 882.3L853.2 881.2L854.2 880.1L855.2 879.0L856.2 877.9L857.2 876.7L858.2 875.6L859.2 874.5L860.2 873.4L861.2 872.3L862.2 871.1L862.5 870.8M1078.9 512.4L1079.2 512.0L1080.1 510.8L1081.0 509.7L1082.0 508.5L1082.9 507.4L1083.8 506.2L1084.7 505.1L1085.7 503.9L1086.6 502.8L1087.6 501.6L1088.5 500.5L1089.5 499.3L1089.9 498.8M1104.6 482.1L1105.0 481.5L1106.0 480.5L1107.0 479.4L1108.1 478.3L1109.1 477.2L1110.1 476.2L1111.1 475.1L1112.1 474.1L1113.1 473.0L1114.2 471.9L1115.2 470.9L1116.2 469.8L1116.6 469.4M1132.8 454.1L1132.9 454.0L1134.1 453.0L1135.2 452.0L1136.3 451.0L1137.4 450.0L1138.6 449.1L1139.7 448.1L1140.8 447.1L1142.0 446.1L1143.1 445.2L1144.3 444.2L1145.4 443.2L1146.1 442.7M1526.9 352.5L1527.0 352.6L1528.2 353.5L1529.4 354.4L1530.5 355.3L1531.6 356.2L1532.7 357.1L1533.8 358.1L1534.9 359.1L1536.0 360.1L1537.0 361.1L1538.1 362.1L1539.1 363.1L1540.1 364.2L1541.0 365.3L1542.0 366.4L1542.0 366.4M1601.6 526.8L1602.3 527.7L1603.3 528.8L1604.3 529.9L1605.3 531.0L1606.3 532.0L1607.3 533.1L1608.4 534.1L1609.4 535.2L1610.5 536.2L1611.6 537.2L1612.7 538.1L1613.8 539.1L1614.9 540.1L1616.1 541.0L1617.3 542.0L1618.4 542.9L1618.5 543.0" stroke="#008b00" stroke-width="5.75"/>
<path d="M198.6 1034.8h4v4h-4zM238.0 1034.2h4v4h-4zM277.8 1033.6h4v4h-4zM317.8 1032.7h4v4h-4zM357.4 1031.4h4v4h-4zM397.3 1029.6h4v4h-4zM436.8 1027.2h4v4h-4zM476.4 1024.0h4v4h-4zM516.0 1019.9h4v4h-4zM555.3 1014.9h4v4h-4zM594.5 1008.5h4v4h-4zM633.7 1000.2h4v4h-4zM671.7 989.9h4v4h-4zM709.2 976.8h4v4h-4zM745.5 960.4h4v4h-4zM779.9 940.4h4v4h-4zM811.8 916.7h4v4h-4zM840.9 889.9h4v4h-4zM867.6 860.5h4v4h-4zM892.0 828.9h4v4h-4zM914.1 795.8h4v4h-4zM934.1 761.4h4v4h-4zM952.6 726.2h4v4h-4zM970.4 690.6h4v4h-4zM988.0 655.3h4v4h-4zM1006.4 620.0h4v4h-4zM1026.1 585.4h4v4h-4zM1047.2 551.7h4v4h-4zM1070.0 519.3h4v4h-4zM1095.1 488.3h4v4h-4zM1122.6 459.6h4v4h-4zM1152.7 433.7h4v4h-4zM1186.7 409.5h4v4h-4zM1224.0 387.9h4v4h-4zM1259.1 371.3h4v4h-4zM1295.4 357.5h4v4h-4zM1329.9 347.1h4v4h-4zM1366.5 338.6h4v4h-4zM1402.3 332.7h4v4h-4zM1439.8 329.4h4v4h-4zM1477.0 331.8h4v4h-4zM1513.8 343.8h4v4h-4zM1547.8 374.8h4v4h-4zM1564.7 418.9h4v4h-4zM1573.6 467.3h4v4h-4zM1590.8 512.9h4v4h-4zM1628.9 549.2h4v4h-4z" fill="#008b00" stroke="none"/>
<use href="#c6" stroke-width="4"/>
<use href="#c6" stroke-width="0.8" transform="translate(1.6 1.6)"/>
<use href="#c6" stroke-width="0.8" transform="translate(1.6 -1.6)"/>
<use href="#c6" stroke-width="0.8" transform="translate(-1.6 1.6)"/>
<use href="#c6" stroke-width="0.8" transform="translate(-1.6 -1.6)"/>
<use href="#c7" stroke-width="4"/>
<use href="#c7" stroke-width="0.8" transform="translate(1.6 1.6)"/>
<use href="#c7" stroke-width="0.8" transform="translate(1.6 -1.6)"/>
<use href="#c7" stroke-width="0.8" transform="translate(-1.6 1.6)"/>
<use href="#c7" stroke-width="0.8" transform="translate(-1.6 -1.6)"/>
</g>
<g fill="none" stroke="#000" stroke-width="3" stroke-linecap="butt">
<path d="M184.50 1040.5V1015.5M184.50 184.5V209.5M290.32 1040.5V1027.5M290.32 184.5V197.5M352.22 1040.5V1027.5M352.22 184.5V197.5M396.14 1040.5V1027.5M396.14 184.5V197.5M430.21 1040.5V1027.5M430.21 184.5V197.5M458.04 1040.5V1027.5M458.04 184.5V197.5M481.57 1040.5V1027.5M481.57 184.5V197.5M501.96 1040.5V1027.5M501.96 184.5V197.5M519.94 1040.5V1027.5M519.94 184.5V197.5M536.02 1040.5V1015.5M536.02 184.5V209.5M641.84 1040.5V1027.5M641.84 184.5V197.5M703.74 1040.5V1027.5M703.74 184.5V197.5M747.66 1040.5V1027.5M747.66 184.5V197.5M781.73 1040.5V1027.5M781.73 184.5V197.5M809.56 1040.5V1027.5M809.56 184.5V197.5M833.10 1040.5V1027.5M833.10 184.5V197.5M853.48 1040.5V1027.5M853.48 184.5V197.5M871.46 1040.5V1027.5M871.46 184.5V197.5M887.55 1040.5V1015.5M887.55 184.5V209.5M993.37 1040.5V1027.5M993.37 184.5V197.5M1055.27 1040.5V1027.5M1055.27 184.5V197.5M1099.19 1040.5V1027.5M1099.19 184.5V197.5M1133.26 1040.5V1027.5M1133.26 184.5V197.5M1161.09 1040.5V1027.5M1161.09 184.5V197.5M1184.62 1040.5V1027.5M1184.62 184.5V197.5M1205.01 1040.5V1027.5M1205.01 184.5V197.5M1222.99 1040.5V1027.5M1222.99 184.5V197.5M1239.07 1040.5V1015.5M1239.07 184.5V209.5M1344.89 1040.5V1027.5M1344.89 184.5V197.5M1406.79 1040.5V1027.5M1406.79 184.5V197.5M1450.71 1040.5V1027.5M1450.71 184.5V197.5M1484.78 1040.5V1027.5M1484.78 184.5V197.5M1512.61 1040.5V1027.5M1512.61 184.5V197.5M1536.15 1040.5V1027.5M1536.15 184.5V197.5M1556.53 1040.5V1027.5M1556.53 184.5V197.5M1574.51 1040.5V1027.5M1574.51 184.5V197.5M1590.60 1040.5V1015.5M1590.60 184.5V209.5M184.5 1040.50H209.5M1652.5 1040.50H1627.5M184.5 897.83H197.5M1652.5 897.83H1639.5M184.5 755.17H209.5M1652.5 755.17H1627.5M184.5 612.50H197.5M1652.5 612.50H1639.5M184.5 469.83H209.5M1652.5 469.83H1627.5M184.5 327.17H197.5M1652.5 327.17H1639.5M184.5 184.50H209.5M1652.5 184.50H1627.5"/>
<rect x="184.5" y="184.5" width="1468.0" height="856.0" stroke-linejoin="miter"/>
</g>
<g font-size="38.0">
<text x="185.5" y="1080" text-anchor="middle">0.01</text>
<text x="537.0" y="1080" text-anchor="middle">0.1</text>
<text x="888.5" y="1080" text-anchor="middle">1</text>
<text x="1240.1" y="1080" text-anchor="middle">10</text>
<text x="1591.6" y="1080" text-anchor="middle">100</text>
<text x="173" y="1053.2" text-anchor="end">0</text>
<text x="173" y="767.9" text-anchor="end">5</text>
<text x="173" y="482.5" text-anchor="end">10</text>
<text x="173" y="197.2" text-anchor="end">15</text>
</g>
<g fill="none" stroke-width="4">
<path d="M1297 846.0H1350" stroke="#000"/>
<path d="M1297 885.2H1350" stroke="#f00"/>
<path d="M1297 924.4H1350" stroke="#008b00"/>
<path d="M1297 963.6H1350" stroke="#00f"/>
</g>
<g font-size="38.0">
<text x="1373" y="859.0">Bader</text>
<text x="1373" y="898.2">L&#246;wdin</text>
<text x="1373" y="937.4">Voronoi</text>
<text x="1373" y="976.6">Perez-Pellitero</text>
</g>
<text x="919" y="1123" text-anchor="middle" font-size="43">Pressure (bar)</text>
<text transform="translate(112.5 613) rotate(-90)" text-anchor="middle" font-size="43">Adsorption Loading (mmol/g)</text>
</svg>
</body></html>
